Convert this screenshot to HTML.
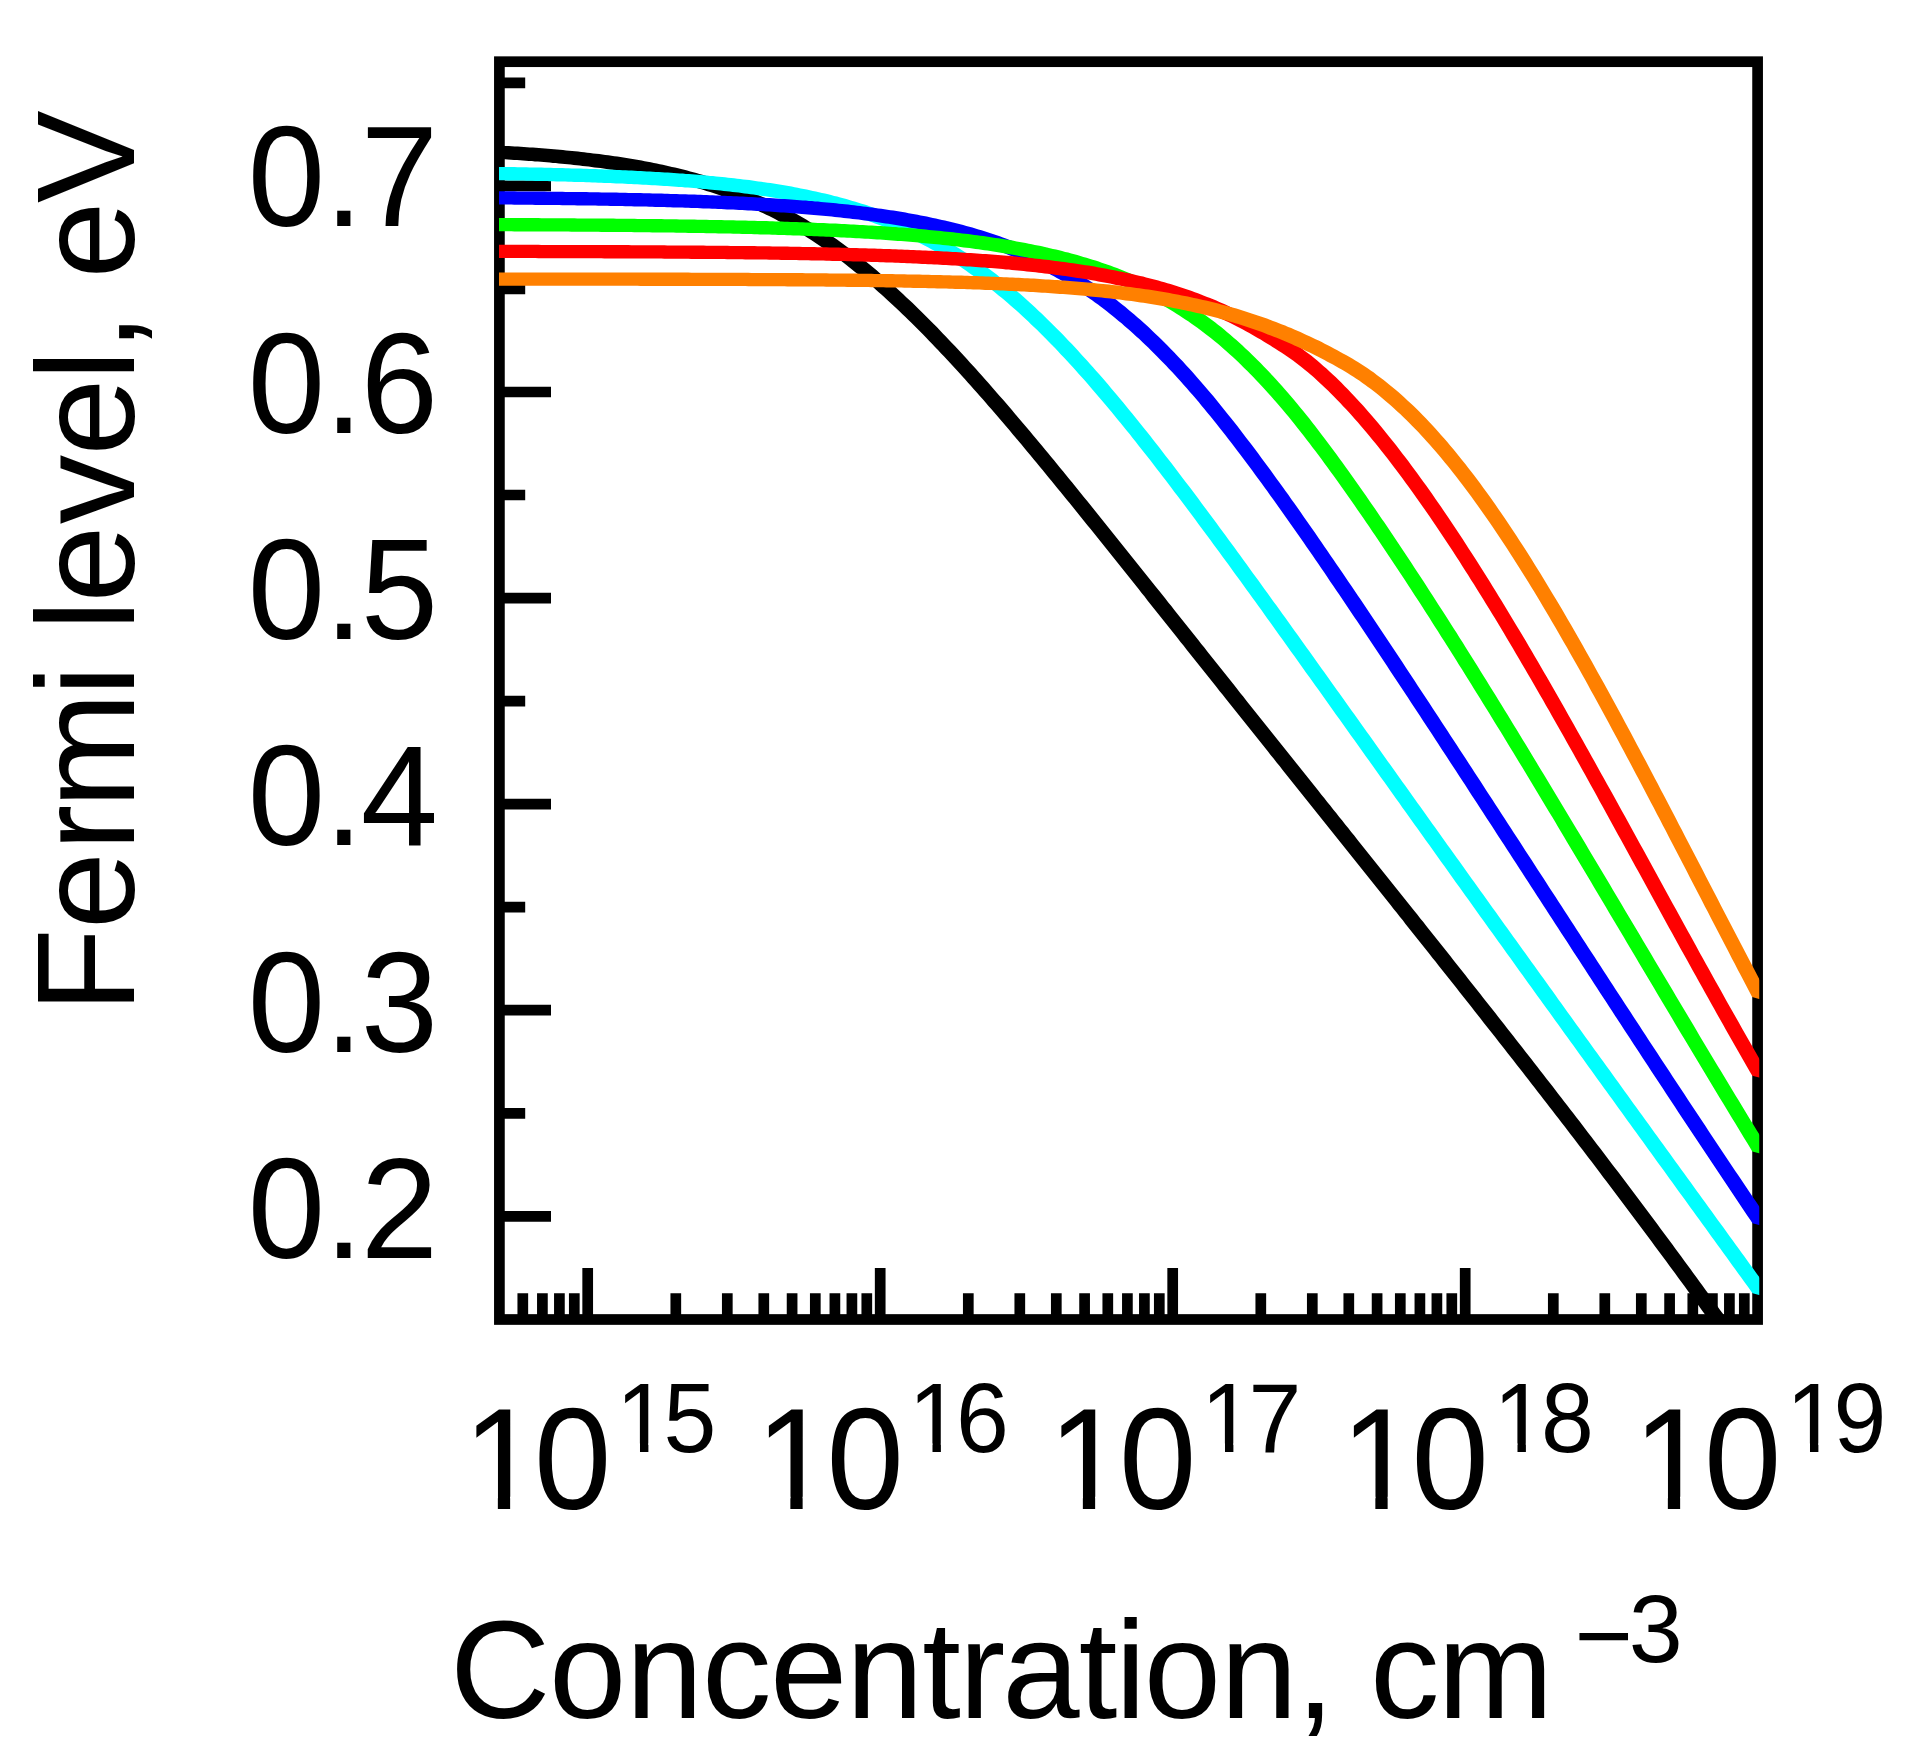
<!DOCTYPE html>
<html lang="en"><head><meta charset="utf-8"><title>Fermi level vs concentration</title>
<style>html,body{margin:0;padding:0;background:#fff}svg{display:block}</style></head>
<body>
<svg width="1910" height="1758" viewBox="0 0 1910 1758">
<rect x="0" y="0" width="1910" height="1758" fill="#fff"/>
<defs><clipPath id="plotclip"><rect x="499" y="61.7" width="1260.25" height="1258"/></clipPath></defs>
<rect x="499.4" y="61.7" width="1258.2" height="1257.8" fill="none" stroke="#000" stroke-width="10.7"/>
<path d="M499.4 1216.3H551.0M499.4 1113.3H525.2M499.4 1010.2H551.0M499.4 907.2H525.2M499.4 804.1H551.0M499.4 701.1H525.2M499.4 598.1H551.0M499.4 495.0H525.2M499.4 392.0H551.0M499.4 288.9H525.2M499.4 185.9H551.0M499.4 82.9H525.2M522.8 1319.5V1293.3M542.4 1319.5V1293.3M559.4 1319.5V1293.3M574.3 1319.5V1293.3M587.7 1319.5V1268.0M675.8 1319.5V1293.3M727.3 1319.5V1293.3M763.8 1319.5V1293.3M792.1 1319.5V1293.3M815.3 1319.5V1293.3M834.9 1319.5V1293.3M851.9 1319.5V1293.3M866.8 1319.5V1293.3M880.2 1319.5V1268.0M968.3 1319.5V1293.3M1019.8 1319.5V1293.3M1056.3 1319.5V1293.3M1084.6 1319.5V1293.3M1107.8 1319.5V1293.3M1127.4 1319.5V1293.3M1144.4 1319.5V1293.3M1159.3 1319.5V1293.3M1172.7 1319.5V1268.0M1260.8 1319.5V1293.3M1312.3 1319.5V1293.3M1348.8 1319.5V1293.3M1377.1 1319.5V1293.3M1400.3 1319.5V1293.3M1419.9 1319.5V1293.3M1436.9 1319.5V1293.3M1451.8 1319.5V1293.3M1465.2 1319.5V1268.0M1553.3 1319.5V1293.3M1604.8 1319.5V1293.3M1641.3 1319.5V1293.3M1669.6 1319.5V1293.3M1692.8 1319.5V1293.3M1712.4 1319.5V1293.3M1729.4 1319.5V1293.3M1744.3 1319.5V1293.3" fill="none" stroke="#000" stroke-width="10.7"/>
<g clip-path="url(#plotclip)" stroke="none">
<path d="M497.9 145.6 499.8 145.5 502.8 145.7 505.8 145.9 508.8 146.0 511.8 146.2 514.8 146.4 517.8 146.6 520.8 146.8 523.9 147.0 526.9 147.2 529.9 147.4 532.9 147.6 535.9 147.8 538.9 148.1 541.9 148.3 545.0 148.6 548.0 148.8 551.0 149.0 554.0 149.3 557.0 149.6 560.0 149.8 563.0 150.1 566.1 150.4 569.1 150.7 572.1 151.0 575.1 151.3 578.1 151.6 581.2 152.0 584.2 152.3 587.2 152.7 590.2 153.0 593.2 153.4 596.3 153.7 599.3 154.1 602.3 154.5 605.3 154.9 608.4 155.3 611.4 155.8 614.4 156.2 617.4 156.6 620.5 157.1 623.5 157.6 626.5 158.0 629.5 158.5 632.6 159.0 635.6 159.5 638.6 160.1 641.7 160.6 644.7 161.2 647.7 161.7 650.8 162.3 653.8 162.9 656.8 163.5 659.9 164.2 662.9 164.8 665.9 165.5 669.0 166.2 672.0 166.9 675.0 167.6 678.1 168.3 681.1 169.0 684.2 169.8 687.2 170.6 690.2 171.4 693.3 172.2 696.3 173.0 699.4 173.9 702.4 174.8 705.5 175.7 708.5 176.6 711.6 177.6 714.6 178.5 717.6 179.5 720.7 180.5 723.7 181.5 726.8 182.6 729.8 183.7 732.9 184.8 735.9 185.9 739.0 187.1 742.0 188.3 745.1 189.5 748.2 190.7 751.2 191.9 754.3 193.2 757.3 194.5 760.4 195.9 763.4 197.3 766.5 198.6 769.5 200.1 772.6 201.5 775.6 203.0 778.7 204.5 781.8 206.1 784.8 207.6 787.9 209.2 790.9 210.9 794.0 212.5 797.0 214.2 800.1 216.0 803.1 217.7 806.2 219.5 809.2 221.4 812.3 223.2 815.3 225.1 818.4 227.0 821.4 229.0 824.5 231.0 827.5 233.0 830.6 235.1 833.6 237.2 836.7 239.3 839.7 241.5 842.8 243.7 845.8 245.9 848.9 248.2 851.9 250.5 855.0 252.8 858.0 255.2 861.1 257.6 864.1 260.0 867.1 262.5 870.2 265.0 873.2 267.5 876.3 270.1 879.3 272.7 882.3 275.3 885.4 278.0 888.4 280.7 891.4 283.4 894.4 286.1 897.5 288.9 900.5 291.7 903.5 294.5 906.5 297.4 909.6 300.2 912.6 303.1 915.6 306.0 918.6 309.0 921.7 311.9 924.7 314.9 927.7 318.0 930.7 321.0 933.7 324.1 936.8 327.1 939.8 330.2 942.8 333.4 945.8 336.5 948.8 339.7 951.9 342.9 954.9 346.1 957.9 349.3 960.9 352.6 963.9 355.8 966.9 359.1 969.9 362.4 973.0 365.8 976.0 369.1 979.0 372.4 982.0 375.8 985.0 379.2 988.0 382.6 991.0 386.0 994.0 389.5 997.0 392.9 1000.1 396.4 1003.1 399.8 1006.1 403.3 1009.1 406.8 1012.1 410.3 1015.1 413.9 1018.1 417.4 1021.1 420.9 1024.1 424.5 1027.1 428.1 1030.1 431.6 1033.1 435.2 1036.1 438.8 1039.2 442.4 1042.2 446.0 1045.2 449.7 1048.2 453.3 1051.2 456.9 1054.2 460.6 1057.2 464.2 1060.2 467.9 1063.2 471.6 1066.2 475.2 1069.2 478.9 1072.2 482.6 1075.2 486.3 1078.2 490.0 1081.2 493.7 1084.2 497.4 1087.2 501.1 1090.2 504.8 1093.2 508.5 1096.2 512.3 1099.2 516.0 1102.2 519.7 1105.2 523.5 1108.2 527.2 1111.2 530.9 1114.2 534.7 1117.2 538.4 1120.2 542.2 1123.2 545.9 1126.2 549.7 1129.2 553.4 1132.2 557.2 1135.2 561.0 1138.2 564.7 1141.2 568.5 1144.2 572.2 1147.2 576.0 1150.2 579.8 1153.2 583.5 1156.2 587.3 1159.3 591.1 1162.3 594.8 1165.3 598.6 1168.3 602.4 1171.3 606.1 1174.3 609.9 1177.3 613.7 1180.3 617.5 1183.3 621.2 1186.3 625.0 1189.3 628.8 1192.3 632.5 1195.3 636.3 1198.3 640.1 1201.3 643.9 1204.3 647.6 1207.3 651.4 1210.3 655.2 1213.3 658.9 1216.3 662.7 1219.3 666.5 1222.3 670.3 1225.3 674.0 1228.3 677.8 1231.3 681.6 1234.3 685.3 1237.2 689.1 1240.2 692.9 1243.2 696.6 1246.2 700.4 1249.2 704.2 1252.2 707.9 1255.2 711.7 1258.2 715.4 1261.2 719.2 1264.2 723.0 1267.2 726.7 1270.2 730.5 1273.2 734.3 1276.2 738.0 1279.2 741.8 1282.2 745.5 1285.2 749.3 1288.2 753.0 1291.2 756.8 1294.2 760.6 1297.2 764.3 1300.2 768.1 1303.2 771.8 1306.2 775.6 1309.2 779.3 1312.2 783.1 1315.2 786.8 1318.2 790.6 1321.2 794.4 1324.2 798.1 1327.2 801.9 1330.2 805.6 1333.2 809.4 1336.2 813.1 1339.2 816.9 1342.2 820.6 1345.2 824.4 1348.2 828.1 1351.2 831.9 1354.2 835.6 1357.2 839.4 1360.2 843.2 1363.2 846.9 1366.2 850.7 1369.2 854.4 1372.2 858.2 1375.2 861.9 1378.2 865.7 1381.2 869.4 1384.2 873.2 1387.2 877.0 1390.2 880.7 1393.2 884.5 1396.2 888.2 1399.2 892.0 1402.2 895.8 1405.2 899.5 1408.2 903.3 1411.2 907.1 1414.2 910.8 1417.3 914.6 1420.3 918.4 1423.3 922.1 1426.3 925.9 1429.3 929.7 1432.3 933.5 1435.3 937.2 1438.3 941.0 1441.3 944.8 1444.3 948.6 1447.3 952.3 1450.3 956.1 1453.3 959.9 1456.3 963.7 1459.3 967.5 1462.3 971.3 1465.3 975.1 1468.3 978.9 1471.3 982.7 1474.3 986.5 1477.3 990.3 1480.3 994.1 1483.3 997.9 1486.3 1001.7 1489.3 1005.5 1492.3 1009.3 1495.3 1013.1 1498.3 1016.9 1501.3 1020.7 1504.3 1024.6 1507.3 1028.4 1510.3 1032.2 1513.3 1036.0 1516.3 1039.9 1519.3 1043.7 1522.3 1047.6 1525.3 1051.4 1528.3 1055.2 1531.3 1059.1 1534.3 1062.9 1537.3 1066.8 1540.3 1070.7 1543.3 1074.5 1546.3 1078.4 1549.3 1082.3 1552.3 1086.1 1555.3 1090.0 1558.3 1093.9 1561.3 1097.8 1564.3 1101.7 1567.3 1105.5 1570.3 1109.4 1573.3 1113.3 1576.3 1117.2 1579.3 1121.1 1582.3 1125.1 1585.3 1129.0 1588.3 1132.9 1591.3 1136.8 1594.3 1140.7 1597.3 1144.7 1600.3 1148.6 1603.3 1152.6 1606.3 1156.5 1609.3 1160.4 1612.3 1164.4 1615.4 1168.4 1618.4 1172.3 1621.4 1176.3 1624.4 1180.3 1627.4 1184.3 1630.4 1188.2 1633.4 1192.2 1636.4 1196.2 1639.4 1200.2 1642.4 1204.2 1645.4 1208.2 1648.4 1212.3 1651.4 1216.3 1654.4 1220.3 1657.4 1224.3 1660.4 1228.4 1663.4 1232.4 1666.4 1236.5 1669.4 1240.5 1672.4 1244.6 1675.4 1248.7 1678.4 1252.7 1681.4 1256.8 1684.4 1260.9 1687.4 1265.0 1690.4 1269.1 1693.4 1273.2 1696.4 1277.3 1699.4 1281.4 1702.4 1285.6 1705.4 1289.7 1708.4 1293.8 1711.4 1298.0 1714.4 1302.1 1717.4 1306.3 1720.4 1310.4 1723.5 1314.6 1726.5 1318.8 1729.5 1323.0 1732.5 1327.2 1735.5 1331.4 1738.5 1335.6 1741.5 1339.8 1744.5 1344.0 1747.5 1348.2 1750.5 1352.5 1753.5 1356.7 1756.5 1361.0 1759.5 1365.2 1762.5 1369.5 1764.7 1372.7 1769.3 1379.2 1762.0 1383.9 1752.6 1381.3 1750.3 1378.1 1747.3 1373.8 1744.3 1369.6 1741.3 1365.3 1738.3 1361.1 1735.3 1356.9 1732.3 1352.6 1729.3 1348.4 1726.3 1344.2 1723.3 1340.0 1720.3 1335.8 1717.3 1331.7 1714.3 1327.5 1711.3 1323.3 1708.4 1319.2 1705.4 1315.0 1702.4 1310.9 1699.4 1306.7 1696.4 1302.6 1693.4 1298.4 1690.4 1294.3 1687.4 1290.2 1684.4 1286.1 1681.4 1282.0 1678.4 1277.9 1675.4 1273.8 1672.4 1269.7 1669.4 1265.7 1666.4 1261.6 1663.4 1257.5 1660.4 1253.5 1657.4 1249.4 1654.4 1245.4 1651.4 1241.3 1648.4 1237.3 1645.4 1233.3 1642.4 1229.2 1639.4 1225.2 1636.4 1221.2 1633.4 1217.2 1630.4 1213.2 1627.4 1209.2 1624.4 1205.2 1621.4 1201.2 1618.4 1197.2 1615.4 1193.2 1612.4 1189.3 1609.4 1185.3 1606.4 1181.3 1603.4 1177.4 1600.5 1173.4 1597.5 1169.5 1594.5 1165.5 1591.5 1161.6 1588.5 1157.7 1585.5 1153.7 1582.5 1149.8 1579.5 1145.9 1576.5 1142.0 1573.5 1138.1 1570.5 1134.2 1567.5 1130.2 1564.5 1126.3 1561.5 1122.4 1558.5 1118.6 1555.5 1114.7 1552.5 1110.8 1549.5 1106.9 1546.5 1103.0 1543.5 1099.2 1540.5 1095.3 1537.5 1091.4 1534.5 1087.6 1531.5 1083.7 1528.5 1079.8 1525.5 1076.0 1522.5 1072.1 1519.5 1068.3 1516.5 1064.4 1513.5 1060.6 1510.5 1056.8 1507.5 1052.9 1504.5 1049.1 1501.5 1045.3 1498.5 1041.4 1495.5 1037.6 1492.5 1033.8 1489.5 1030.0 1486.5 1026.2 1483.5 1022.4 1480.5 1018.5 1477.5 1014.7 1474.5 1010.9 1471.5 1007.1 1468.5 1003.3 1465.5 999.5 1462.5 995.7 1459.5 991.9 1456.5 988.1 1453.5 984.3 1450.5 980.6 1447.5 976.8 1444.5 973.0 1441.5 969.2 1438.5 965.4 1435.5 961.6 1432.5 957.9 1429.5 954.1 1426.5 950.3 1423.5 946.5 1420.5 942.8 1417.5 939.0 1414.5 935.2 1411.5 931.4 1408.5 927.7 1405.5 923.9 1402.6 920.1 1399.6 916.4 1396.6 912.6 1393.6 908.9 1390.6 905.1 1387.6 901.3 1384.6 897.6 1381.6 893.8 1378.6 890.1 1375.6 886.3 1372.6 882.5 1369.6 878.8 1366.6 875.0 1363.6 871.3 1360.6 867.5 1357.6 863.8 1354.6 860.0 1351.6 856.2 1348.6 852.5 1345.6 848.7 1342.6 845.0 1339.6 841.2 1336.6 837.5 1333.6 833.7 1330.6 830.0 1327.6 826.2 1324.6 822.5 1321.6 818.7 1318.6 815.0 1315.6 811.2 1312.6 807.4 1309.6 803.7 1306.6 799.9 1303.6 796.2 1300.6 792.4 1297.6 788.7 1294.6 784.9 1291.6 781.2 1288.6 777.4 1285.6 773.7 1282.6 769.9 1279.6 766.1 1276.6 762.4 1273.6 758.6 1270.6 754.9 1267.6 751.1 1264.6 747.3 1261.6 743.6 1258.6 739.8 1255.6 736.1 1252.6 732.3 1249.6 728.5 1246.6 724.8 1243.6 721.0 1240.6 717.2 1237.6 713.5 1234.6 709.7 1231.6 705.9 1228.6 702.2 1225.6 698.4 1222.5 694.6 1219.5 690.9 1216.5 687.1 1213.5 683.3 1210.5 679.6 1207.5 675.8 1204.5 672.0 1201.5 668.3 1198.5 664.5 1195.5 660.7 1192.5 656.9 1189.5 653.2 1186.5 649.4 1183.5 645.6 1180.5 641.9 1177.5 638.1 1174.5 634.3 1171.5 630.5 1168.5 626.8 1165.5 623.0 1162.5 619.2 1159.5 615.5 1156.5 611.7 1153.5 607.9 1150.5 604.2 1147.5 600.4 1144.6 596.6 1141.6 592.9 1138.6 589.1 1135.6 585.3 1132.6 581.6 1129.6 577.8 1126.6 574.0 1123.6 570.3 1120.6 566.5 1117.6 562.8 1114.6 559.0 1111.6 555.3 1108.6 551.5 1105.6 547.8 1102.6 544.0 1099.6 540.3 1096.6 536.6 1093.6 532.8 1090.6 529.1 1087.6 525.4 1084.6 521.7 1081.6 517.9 1078.6 514.2 1075.6 510.5 1072.6 506.8 1069.6 503.1 1066.6 499.4 1063.6 495.7 1060.6 492.1 1057.6 488.4 1054.6 484.7 1051.6 481.0 1048.6 477.4 1045.6 473.7 1042.6 470.1 1039.6 466.5 1036.6 462.8 1033.6 459.2 1030.6 455.6 1027.6 452.0 1024.7 448.4 1021.7 444.8 1018.7 441.3 1015.7 437.7 1012.7 434.2 1009.7 430.6 1006.7 427.1 1003.7 423.6 1000.7 420.1 997.7 416.6 994.7 413.1 991.7 409.6 988.7 406.2 985.8 402.8 982.8 399.3 979.8 395.9 976.8 392.5 973.8 389.2 970.8 385.8 967.8 382.4 964.8 379.1 961.8 375.8 958.9 372.5 955.9 369.2 952.9 366.0 949.9 362.8 946.9 359.5 943.9 356.3 940.9 353.2 938.0 350.0 935.0 346.9 932.0 343.8 929.0 340.7 926.0 337.6 923.1 334.6 920.1 331.5 917.1 328.6 914.1 325.6 911.1 322.6 908.2 319.7 905.2 316.8 902.2 313.9 899.2 311.1 896.3 308.3 893.3 305.5 890.3 302.7 887.3 299.9 884.4 297.2 881.4 294.5 878.4 291.9 875.4 289.2 872.5 286.6 869.5 284.1 866.5 281.5 863.6 279.0 860.6 276.5 857.7 274.1 854.7 271.7 851.7 269.3 848.8 266.9 845.8 264.6 842.9 262.3 839.9 260.1 837.0 257.9 834.0 255.7 831.1 253.6 828.1 251.5 825.2 249.4 822.2 247.4 819.3 245.4 816.3 243.4 813.4 241.5 810.4 239.5 807.5 237.7 804.5 235.8 801.6 234.0 798.6 232.2 795.7 230.5 792.7 228.8 789.8 227.1 786.8 225.4 783.9 223.8 780.9 222.2 778.0 220.7 775.0 219.1 772.1 217.6 769.2 216.1 766.2 214.7 763.3 213.3 760.3 211.9 757.4 210.5 754.4 209.2 751.5 207.9 748.5 206.6 745.6 205.3 742.6 204.1 739.7 202.9 736.8 201.7 733.8 200.5 730.9 199.4 727.9 198.3 725.0 197.2 722.0 196.2 719.1 195.1 716.1 194.1 713.2 193.1 710.2 192.1 707.2 191.2 704.3 190.2 701.3 189.3 698.4 188.4 695.4 187.6 692.5 186.7 689.5 185.9 686.6 185.1 683.6 184.3 680.6 183.5 677.7 182.7 674.7 182.0 671.8 181.2 668.8 180.5 665.8 179.8 662.9 179.2 659.9 178.5 656.9 177.9 654.0 177.2 651.0 176.6 648.0 176.0 645.1 175.4 642.1 174.9 639.1 174.3 636.2 173.7 633.2 173.2 630.2 172.7 627.3 172.2 624.3 171.7 621.3 171.2 618.3 170.7 615.4 170.3 612.4 169.8 609.4 169.4 606.4 169.0 603.5 168.5 600.5 168.1 597.5 167.7 594.5 167.4 591.6 167.0 588.6 166.6 585.6 166.3 582.6 165.9 579.6 165.6 576.7 165.2 573.7 164.9 570.7 164.6 567.7 164.3 564.7 164.0 561.8 163.7 558.8 163.4 555.8 163.1 552.8 162.9 549.8 162.6 546.8 162.3 543.8 162.1 540.9 161.8 537.9 161.6 534.9 161.4 531.9 161.1 528.9 160.9 525.9 160.7 522.9 160.5 520.0 160.3 517.0 160.1 514.0 159.9 511.0 159.7 508.0 159.5 505.0 159.3 502.0 159.2 499.0 159.0 497.9 158.9Z" fill="#000"/>
<path d="M497.9 166.9 499.5 166.9 502.5 166.9 505.5 167.0 508.5 167.0 511.5 167.1 514.5 167.1 517.5 167.2 520.5 167.2 523.5 167.3 526.5 167.3 529.5 167.4 532.5 167.4 535.5 167.5 538.5 167.6 541.5 167.6 544.6 167.7 547.6 167.8 550.6 167.8 553.6 167.9 556.6 168.0 559.6 168.1 562.6 168.1 565.6 168.2 568.6 168.3 571.6 168.4 574.6 168.5 577.6 168.6 580.6 168.6 583.6 168.7 586.6 168.8 589.6 168.9 592.6 169.0 595.6 169.1 598.6 169.2 601.6 169.3 604.7 169.5 607.7 169.6 610.7 169.7 613.7 169.8 616.7 169.9 619.7 170.1 622.7 170.2 625.7 170.3 628.7 170.5 631.7 170.6 634.7 170.7 637.7 170.9 640.7 171.0 643.8 171.2 646.8 171.4 649.8 171.5 652.8 171.7 655.8 171.9 658.8 172.0 661.8 172.2 664.8 172.4 667.8 172.6 670.9 172.8 673.9 173.0 676.9 173.2 679.9 173.4 682.9 173.6 685.9 173.9 688.9 174.1 691.9 174.3 695.0 174.6 698.0 174.8 701.0 175.1 704.0 175.3 707.0 175.6 710.0 175.9 713.0 176.1 716.1 176.4 719.1 176.7 722.1 177.0 725.1 177.3 728.1 177.7 731.2 178.0 734.2 178.3 737.2 178.7 740.2 179.0 743.2 179.4 746.3 179.8 749.3 180.1 752.3 180.5 755.3 180.9 758.4 181.4 761.4 181.8 764.4 182.2 767.4 182.7 770.5 183.1 773.5 183.6 776.5 184.1 779.5 184.5 782.6 185.1 785.6 185.6 788.6 186.1 791.7 186.6 794.7 187.2 797.7 187.8 800.8 188.4 803.8 189.0 806.8 189.6 809.9 190.2 812.9 190.9 815.9 191.5 819.0 192.2 822.0 192.9 825.0 193.6 828.1 194.3 831.1 195.1 834.2 195.9 837.2 196.6 840.3 197.4 843.3 198.3 846.3 199.1 849.4 200.0 852.4 200.9 855.5 201.8 858.5 202.7 861.6 203.7 864.6 204.6 867.7 205.6 870.7 206.7 873.8 207.7 876.8 208.8 879.9 209.9 882.9 211.0 886.0 212.1 889.0 213.3 892.1 214.5 895.1 215.7 898.2 217.0 901.3 218.3 904.3 219.6 907.4 220.9 910.4 222.3 913.5 223.7 916.5 225.1 919.6 226.6 922.7 228.1 925.7 229.6 928.8 231.2 931.8 232.7 934.9 234.4 937.9 236.0 941.0 237.7 944.1 239.4 947.1 241.2 950.2 243.0 953.2 244.8 956.3 246.7 959.3 248.5 962.4 250.5 965.5 252.4 968.5 254.4 971.6 256.5 974.6 258.6 977.7 260.7 980.7 262.8 983.8 265.0 986.8 267.2 989.9 269.5 992.9 271.8 996.0 274.1 999.0 276.5 1002.1 278.9 1005.1 281.3 1008.2 283.8 1011.2 286.3 1014.2 288.9 1017.3 291.5 1020.3 294.1 1023.4 296.8 1026.4 299.5 1029.4 302.2 1032.5 305.0 1035.5 307.8 1038.5 310.7 1041.6 313.5 1044.6 316.5 1047.6 319.4 1050.7 322.4 1053.7 325.4 1056.7 328.4 1059.8 331.5 1062.8 334.6 1065.8 337.7 1068.8 340.9 1071.9 344.1 1074.9 347.3 1077.9 350.6 1080.9 353.9 1083.9 357.2 1087.0 360.5 1090.0 363.9 1093.0 367.3 1096.0 370.7 1099.0 374.1 1102.1 377.6 1105.1 381.1 1108.1 384.6 1111.1 388.2 1114.1 391.7 1117.1 395.3 1120.2 398.9 1123.2 402.6 1126.2 406.2 1129.2 409.9 1132.2 413.6 1135.2 417.3 1138.2 421.0 1141.2 424.8 1144.2 428.5 1147.3 432.3 1150.3 436.1 1153.3 439.9 1156.3 443.8 1159.3 447.6 1162.3 451.5 1165.3 455.4 1168.3 459.2 1171.3 463.1 1174.3 467.1 1177.3 471.0 1180.3 474.9 1183.3 478.9 1186.4 482.9 1189.4 486.8 1192.4 490.8 1195.4 494.8 1198.4 498.8 1201.4 502.9 1204.4 506.9 1207.4 510.9 1210.4 515.0 1213.4 519.0 1216.4 523.1 1219.4 527.2 1222.4 531.2 1225.4 535.3 1228.4 539.4 1231.4 543.5 1234.4 547.6 1237.4 551.7 1240.4 555.8 1243.4 560.0 1246.4 564.1 1249.4 568.2 1252.4 572.4 1255.4 576.5 1258.4 580.6 1261.4 584.8 1264.4 588.9 1267.4 593.1 1270.4 597.3 1273.4 601.4 1276.5 605.6 1279.5 609.8 1282.5 613.9 1285.5 618.1 1288.5 622.3 1291.5 626.5 1294.5 630.7 1297.5 634.8 1300.5 639.0 1303.5 643.2 1306.5 647.4 1309.5 651.6 1312.5 655.8 1315.5 660.0 1318.5 664.2 1321.5 668.4 1324.5 672.6 1327.5 676.8 1330.5 681.0 1333.5 685.2 1336.5 689.4 1339.5 693.6 1342.5 697.8 1345.5 702.0 1348.5 706.2 1351.5 710.4 1354.5 714.6 1357.5 718.8 1360.5 723.0 1363.5 727.2 1366.5 731.4 1369.5 735.6 1372.5 739.8 1375.5 744.0 1378.5 748.2 1381.5 752.5 1384.5 756.7 1387.5 760.9 1390.5 765.1 1393.5 769.3 1396.5 773.5 1399.5 777.7 1402.5 781.9 1405.5 786.1 1408.5 790.3 1411.5 794.5 1414.5 798.7 1417.5 802.9 1420.5 807.1 1423.5 811.3 1426.5 815.5 1429.5 819.7 1432.5 823.9 1435.5 828.1 1438.5 832.3 1441.5 836.5 1444.5 840.7 1447.5 844.9 1450.5 849.0 1453.5 853.2 1456.5 857.4 1459.5 861.6 1462.5 865.8 1465.5 870.0 1468.5 874.2 1471.5 878.4 1474.5 882.6 1477.5 886.7 1480.5 890.9 1483.5 895.1 1486.5 899.3 1489.5 903.5 1492.5 907.7 1495.5 911.8 1498.5 916.0 1501.5 920.2 1504.5 924.4 1507.5 928.6 1510.5 932.7 1513.5 936.9 1516.5 941.1 1519.5 945.3 1522.5 949.4 1525.5 953.6 1528.5 957.8 1531.5 962.0 1534.5 966.1 1537.5 970.3 1540.5 974.5 1543.5 978.6 1546.5 982.8 1549.5 987.0 1552.5 991.1 1555.5 995.3 1558.4 999.5 1561.4 1003.6 1564.4 1007.8 1567.4 1011.9 1570.4 1016.1 1573.4 1020.3 1576.4 1024.4 1579.4 1028.6 1582.4 1032.7 1585.4 1036.9 1588.4 1041.1 1591.4 1045.2 1594.4 1049.4 1597.4 1053.5 1600.4 1057.7 1603.4 1061.8 1606.4 1066.0 1609.4 1070.1 1612.4 1074.3 1615.4 1078.5 1618.4 1082.6 1621.4 1086.8 1624.4 1090.9 1627.4 1095.1 1630.4 1099.2 1633.4 1103.4 1636.4 1107.5 1639.4 1111.7 1642.4 1115.8 1645.4 1119.9 1648.4 1124.1 1651.4 1128.2 1654.4 1132.4 1657.4 1136.5 1660.4 1140.7 1663.4 1144.8 1666.4 1149.0 1669.4 1153.1 1672.4 1157.3 1675.4 1161.4 1678.4 1165.5 1681.4 1169.7 1684.4 1173.8 1687.4 1178.0 1690.4 1182.1 1693.4 1186.2 1696.4 1190.4 1699.4 1194.5 1702.4 1198.7 1705.4 1202.8 1708.4 1206.9 1711.4 1211.1 1714.4 1215.2 1717.4 1219.4 1720.4 1223.5 1723.4 1227.6 1726.4 1231.8 1729.4 1235.9 1732.4 1240.1 1735.4 1244.2 1738.4 1248.3 1741.4 1252.5 1744.4 1256.6 1747.4 1260.8 1750.4 1264.9 1753.4 1269.0 1756.4 1273.2 1759.4 1277.3 1762.4 1281.5 1764.7 1284.6 1769.4 1291.0 1762.0 1295.9 1752.6 1293.3 1750.4 1290.2 1747.4 1286.1 1744.4 1281.9 1741.4 1277.8 1738.4 1273.7 1735.4 1269.5 1732.4 1265.4 1729.4 1261.2 1726.4 1257.1 1723.4 1253.0 1720.4 1248.8 1717.4 1244.7 1714.4 1240.5 1711.4 1236.4 1708.4 1232.3 1705.4 1228.1 1702.4 1224.0 1699.4 1219.8 1696.4 1215.7 1693.4 1211.6 1690.4 1207.4 1687.4 1203.3 1684.4 1199.1 1681.4 1195.0 1678.4 1190.9 1675.4 1186.7 1672.4 1182.6 1669.4 1178.4 1666.4 1174.3 1663.4 1170.1 1660.4 1166.0 1657.4 1161.9 1654.4 1157.7 1651.4 1153.6 1648.4 1149.4 1645.4 1145.3 1642.4 1141.1 1639.4 1137.0 1636.4 1132.8 1633.4 1128.7 1630.4 1124.5 1627.4 1120.4 1624.4 1116.2 1621.4 1112.1 1618.4 1107.9 1615.4 1103.8 1612.4 1099.6 1609.4 1095.5 1606.4 1091.3 1603.4 1087.2 1600.4 1083.0 1597.4 1078.9 1594.4 1074.7 1591.4 1070.6 1588.4 1066.4 1585.4 1062.3 1582.4 1058.1 1579.4 1053.9 1576.4 1049.8 1573.4 1045.6 1570.4 1041.5 1567.4 1037.3 1564.4 1033.2 1561.4 1029.0 1558.4 1024.8 1555.4 1020.7 1552.4 1016.5 1549.4 1012.3 1546.4 1008.2 1543.3 1004.0 1540.3 999.8 1537.3 995.7 1534.3 991.5 1531.3 987.3 1528.3 983.2 1525.3 979.0 1522.3 974.8 1519.3 970.7 1516.3 966.5 1513.3 962.3 1510.3 958.1 1507.3 954.0 1504.3 949.8 1501.3 945.6 1498.3 941.4 1495.3 937.3 1492.3 933.1 1489.3 928.9 1486.3 924.7 1483.3 920.5 1480.3 916.4 1477.3 912.2 1474.3 908.0 1471.3 903.8 1468.3 899.6 1465.3 895.4 1462.3 891.2 1459.3 887.1 1456.3 882.9 1453.3 878.7 1450.3 874.5 1447.3 870.3 1444.3 866.1 1441.3 861.9 1438.3 857.7 1435.3 853.5 1432.3 849.3 1429.3 845.1 1426.3 840.9 1423.3 836.7 1420.3 832.5 1417.3 828.3 1414.3 824.2 1411.3 820.0 1408.3 815.8 1405.3 811.6 1402.3 807.4 1399.3 803.1 1396.3 798.9 1393.3 794.7 1390.3 790.5 1387.3 786.3 1384.3 782.1 1381.3 777.9 1378.3 773.7 1375.3 769.5 1372.3 765.3 1369.3 761.1 1366.3 756.9 1363.3 752.7 1360.3 748.5 1357.3 744.3 1354.3 740.1 1351.3 735.9 1348.3 731.7 1345.3 727.5 1342.3 723.3 1339.3 719.1 1336.3 714.9 1333.3 710.7 1330.3 706.5 1327.3 702.2 1324.3 698.0 1321.3 693.8 1318.3 689.6 1315.3 685.4 1312.3 681.2 1309.3 677.1 1306.3 672.9 1303.3 668.7 1300.3 664.5 1297.3 660.3 1294.3 656.1 1291.3 651.9 1288.3 647.7 1285.3 643.5 1282.3 639.3 1279.3 635.2 1276.3 631.0 1273.3 626.8 1270.3 622.6 1267.3 618.5 1264.3 614.3 1261.4 610.1 1258.4 606.0 1255.4 601.8 1252.4 597.7 1249.4 593.5 1246.4 589.4 1243.4 585.3 1240.4 581.1 1237.4 577.0 1234.4 572.9 1231.4 568.7 1228.4 564.6 1225.4 560.5 1222.4 556.4 1219.4 552.3 1216.4 548.2 1213.4 544.2 1210.4 540.1 1207.4 536.0 1204.4 532.0 1201.4 527.9 1198.4 523.9 1195.4 519.8 1192.4 515.8 1189.4 511.8 1186.4 507.8 1183.4 503.8 1180.4 499.8 1177.4 495.8 1174.4 491.9 1171.5 487.9 1168.5 484.0 1165.5 480.1 1162.5 476.2 1159.5 472.3 1156.5 468.4 1153.5 464.5 1150.5 460.6 1147.5 456.8 1144.5 453.0 1141.5 449.2 1138.5 445.4 1135.5 441.6 1132.6 437.9 1129.6 434.1 1126.6 430.4 1123.6 426.7 1120.6 423.0 1117.6 419.4 1114.6 415.7 1111.6 412.1 1108.6 408.5 1105.7 404.9 1102.7 401.4 1099.7 397.9 1096.7 394.4 1093.7 390.9 1090.7 387.4 1087.8 384.0 1084.8 380.6 1081.8 377.2 1078.8 373.9 1075.8 370.6 1072.9 367.3 1069.9 364.0 1066.9 360.8 1063.9 357.6 1060.9 354.4 1058.0 351.2 1055.0 348.1 1052.0 345.1 1049.0 342.0 1046.1 339.0 1043.1 336.0 1040.1 333.0 1037.2 330.1 1034.2 327.2 1031.2 324.4 1028.3 321.6 1025.3 318.8 1022.3 316.0 1019.4 313.3 1016.4 310.6 1013.4 308.0 1010.5 305.4 1007.5 302.8 1004.6 300.3 1001.6 297.8 998.6 295.4 995.7 293.0 992.7 290.6 989.8 288.2 986.8 285.9 983.9 283.7 980.9 281.4 978.0 279.2 975.0 277.1 972.1 275.0 969.1 272.9 966.2 270.8 963.2 268.8 960.3 266.8 957.3 264.9 954.4 263.0 951.5 261.1 948.5 259.3 945.6 257.5 942.6 255.7 939.7 254.0 936.7 252.2 933.8 250.6 930.9 248.9 927.9 247.3 925.0 245.8 922.0 244.2 919.1 242.7 916.1 241.2 913.2 239.8 910.3 238.3 907.3 236.9 904.4 235.6 901.4 234.2 898.5 232.9 895.5 231.6 892.6 230.4 889.7 229.2 886.7 228.0 883.8 226.8 880.8 225.6 877.9 224.5 874.9 223.4 872.0 222.3 869.0 221.3 866.1 220.2 863.1 219.2 860.2 218.2 857.2 217.3 854.3 216.3 851.3 215.4 848.4 214.5 845.4 213.6 842.5 212.8 839.5 211.9 836.5 211.1 833.6 210.3 830.6 209.5 827.7 208.8 824.7 208.0 821.8 207.3 818.8 206.6 815.8 205.9 812.9 205.2 809.9 204.5 806.9 203.9 804.0 203.3 801.0 202.6 798.0 202.0 795.1 201.5 792.1 200.9 789.1 200.3 786.2 199.8 783.2 199.2 780.2 198.7 777.3 198.2 774.3 197.7 771.3 197.2 768.3 196.8 765.4 196.3 762.4 195.9 759.4 195.4 756.4 195.0 753.5 194.6 750.5 194.2 747.5 193.8 744.5 193.4 741.6 193.0 738.6 192.6 735.6 192.3 732.6 191.9 729.6 191.6 726.7 191.3 723.7 190.9 720.7 190.6 717.7 190.3 714.7 190.0 711.8 189.7 708.8 189.4 705.8 189.1 702.8 188.9 699.8 188.6 696.8 188.3 693.8 188.1 690.9 187.8 687.9 187.6 684.9 187.4 681.9 187.1 678.9 186.9 675.9 186.7 672.9 186.5 669.9 186.3 667.0 186.1 664.0 185.9 661.0 185.7 658.0 185.5 655.0 185.3 652.0 185.2 649.0 185.0 646.0 184.8 643.0 184.7 640.1 184.5 637.1 184.3 634.1 184.2 631.1 184.0 628.1 183.9 625.1 183.8 622.1 183.6 619.1 183.5 616.1 183.4 613.1 183.2 610.1 183.1 607.1 183.0 604.1 182.9 601.2 182.8 598.2 182.7 595.2 182.5 592.2 182.4 589.2 182.3 586.2 182.2 583.2 182.1 580.2 182.0 577.2 182.0 574.2 181.9 571.2 181.8 568.2 181.7 565.2 181.6 562.2 181.5 559.2 181.4 556.2 181.4 553.2 181.3 550.2 181.2 547.2 181.1 544.2 181.1 541.3 181.0 538.3 180.9 535.3 180.9 532.3 180.8 529.3 180.8 526.3 180.7 523.3 180.6 520.3 180.6 517.3 180.5 514.3 180.5 511.3 180.4 508.3 180.4 505.3 180.3 502.3 180.3 499.3 180.2 497.9 180.2Z" fill="#00ffff"/>
<path d="M497.9 191.2 499.5 191.2 502.5 191.2 505.5 191.3 508.5 191.3 511.5 191.3 514.5 191.3 517.5 191.4 520.5 191.4 523.5 191.4 526.5 191.4 529.5 191.5 532.5 191.5 535.5 191.5 538.5 191.6 541.5 191.6 544.5 191.6 547.5 191.7 550.5 191.7 553.5 191.7 556.5 191.8 559.5 191.8 562.5 191.8 565.5 191.9 568.5 191.9 571.5 191.9 574.5 192.0 577.5 192.0 580.5 192.1 583.5 192.1 586.5 192.1 589.5 192.2 592.5 192.2 595.5 192.3 598.5 192.3 601.5 192.4 604.5 192.4 607.5 192.5 610.5 192.5 613.5 192.6 616.5 192.6 619.5 192.7 622.5 192.8 625.5 192.8 628.5 192.9 631.5 192.9 634.5 193.0 637.5 193.1 640.6 193.1 643.6 193.2 646.6 193.3 649.6 193.3 652.6 193.4 655.6 193.5 658.6 193.6 661.6 193.6 664.6 193.7 667.6 193.8 670.6 193.9 673.6 194.0 676.6 194.1 679.6 194.2 682.6 194.2 685.6 194.3 688.6 194.4 691.6 194.5 694.6 194.6 697.6 194.7 700.6 194.8 703.6 195.0 706.7 195.1 709.7 195.2 712.7 195.3 715.7 195.4 718.7 195.5 721.7 195.7 724.7 195.8 727.7 195.9 730.7 196.0 733.7 196.2 736.7 196.3 739.7 196.5 742.7 196.6 745.7 196.8 748.8 196.9 751.8 197.1 754.8 197.2 757.8 197.4 760.8 197.6 763.8 197.7 766.8 197.9 769.8 198.1 772.8 198.3 775.8 198.5 778.8 198.7 781.9 198.9 784.9 199.1 787.9 199.3 790.9 199.5 793.9 199.7 796.9 199.9 799.9 200.2 802.9 200.4 805.9 200.6 809.0 200.9 812.0 201.1 815.0 201.4 818.0 201.6 821.0 201.9 824.0 202.2 827.0 202.5 830.1 202.7 833.1 203.0 836.1 203.3 839.1 203.7 842.1 204.0 845.1 204.3 848.2 204.6 851.2 205.0 854.2 205.3 857.2 205.7 860.2 206.0 863.3 206.4 866.3 206.8 869.3 207.2 872.3 207.6 875.3 208.0 878.4 208.4 881.4 208.8 884.4 209.3 887.4 209.7 890.5 210.2 893.5 210.6 896.5 211.1 899.5 211.6 902.6 212.1 905.6 212.6 908.6 213.2 911.6 213.7 914.7 214.2 917.7 214.8 920.7 215.4 923.8 216.0 926.8 216.6 929.8 217.2 932.9 217.9 935.9 218.5 938.9 219.2 942.0 219.9 945.0 220.5 948.0 221.3 951.1 222.0 954.1 222.7 957.2 223.5 960.2 224.3 963.2 225.1 966.3 225.9 969.3 226.8 972.4 227.6 975.4 228.5 978.5 229.4 981.5 230.3 984.6 231.3 987.6 232.2 990.6 233.2 993.7 234.2 996.7 235.3 999.8 236.3 1002.9 237.4 1005.9 238.5 1009.0 239.7 1012.0 240.8 1015.1 242.0 1018.1 243.2 1021.2 244.5 1024.2 245.7 1027.3 247.0 1030.3 248.3 1033.4 249.7 1036.5 251.1 1039.5 252.5 1042.6 254.0 1045.6 255.4 1048.7 257.0 1051.8 258.5 1054.8 260.1 1057.9 261.7 1060.9 263.4 1064.0 265.0 1067.1 266.8 1070.1 268.5 1073.2 270.3 1076.2 272.1 1079.3 274.0 1082.4 275.9 1085.4 277.9 1088.5 279.9 1091.5 281.9 1094.6 283.9 1097.7 286.1 1100.7 288.2 1103.8 290.4 1106.8 292.6 1109.9 294.9 1112.9 297.2 1116.0 299.5 1119.0 301.9 1122.1 304.4 1125.1 306.8 1128.2 309.4 1131.2 311.9 1134.3 314.5 1137.3 317.2 1140.4 319.8 1143.4 322.6 1146.5 325.3 1149.5 328.1 1152.5 331.0 1155.6 333.9 1158.6 336.8 1161.7 339.8 1164.7 342.8 1167.7 345.8 1170.8 348.9 1173.8 352.0 1176.8 355.2 1179.9 358.4 1182.9 361.6 1185.9 364.9 1189.0 368.2 1192.0 371.6 1195.0 375.0 1198.0 378.4 1201.1 381.9 1204.1 385.4 1207.1 388.9 1210.1 392.5 1213.2 396.1 1216.2 399.8 1219.2 403.4 1222.2 407.2 1225.2 410.9 1228.2 414.7 1231.3 418.5 1234.3 422.3 1237.3 426.1 1240.3 430.0 1243.3 433.9 1246.3 437.9 1249.3 441.8 1252.4 445.8 1255.4 449.8 1258.4 453.8 1261.4 457.9 1264.4 461.9 1267.4 466.0 1270.4 470.1 1273.4 474.3 1276.4 478.4 1279.4 482.6 1282.5 486.7 1285.5 490.9 1288.5 495.1 1291.5 499.4 1294.5 503.6 1297.5 507.8 1300.5 512.1 1303.5 516.4 1306.5 520.7 1309.5 525.0 1312.5 529.3 1315.5 533.6 1318.5 538.0 1321.5 542.3 1324.5 546.7 1327.5 551.0 1330.5 555.4 1333.5 559.8 1336.5 564.2 1339.5 568.6 1342.6 573.0 1345.6 577.4 1348.6 581.9 1351.6 586.3 1354.6 590.7 1357.6 595.2 1360.6 599.6 1363.6 604.1 1366.6 608.6 1369.6 613.0 1372.6 617.5 1375.6 622.0 1378.6 626.5 1381.6 631.0 1384.6 635.5 1387.6 640.0 1390.6 644.5 1393.6 649.1 1396.6 653.6 1399.6 658.1 1402.6 662.6 1405.6 667.2 1408.6 671.7 1411.6 676.3 1414.6 680.8 1417.6 685.4 1420.6 689.9 1423.6 694.5 1426.6 699.1 1429.6 703.6 1432.6 708.2 1435.6 712.8 1438.6 717.3 1441.6 721.9 1444.6 726.5 1447.6 731.1 1450.6 735.7 1453.6 740.3 1456.6 744.8 1459.6 749.4 1462.6 754.0 1465.6 758.6 1468.6 763.2 1471.6 767.8 1474.6 772.4 1477.6 777.0 1480.6 781.6 1483.6 786.3 1486.6 790.9 1489.6 795.5 1492.6 800.1 1495.6 804.7 1498.6 809.3 1501.6 813.9 1504.6 818.5 1507.6 823.2 1510.6 827.8 1513.6 832.4 1516.6 837.0 1519.6 841.6 1522.6 846.3 1525.6 850.9 1528.6 855.5 1531.6 860.1 1534.6 864.7 1537.6 869.4 1540.6 874.0 1543.6 878.6 1546.6 883.2 1549.6 887.9 1552.6 892.5 1555.6 897.1 1558.6 901.7 1561.6 906.3 1564.6 911.0 1567.6 915.6 1570.6 920.2 1573.6 924.8 1576.6 929.4 1579.6 934.0 1582.6 938.7 1585.6 943.3 1588.6 947.9 1591.6 952.5 1594.6 957.1 1597.6 961.7 1600.6 966.3 1603.6 970.9 1606.6 975.6 1609.6 980.2 1612.6 984.8 1615.6 989.4 1618.6 994.0 1621.6 998.6 1624.6 1003.2 1627.6 1007.8 1630.6 1012.3 1633.6 1016.9 1636.6 1021.5 1639.6 1026.1 1642.6 1030.7 1645.6 1035.3 1648.6 1039.9 1651.6 1044.4 1654.6 1049.0 1657.6 1053.6 1660.6 1058.2 1663.6 1062.7 1666.6 1067.3 1669.6 1071.8 1672.6 1076.4 1675.6 1081.0 1678.6 1085.5 1681.6 1090.1 1684.6 1094.6 1687.6 1099.2 1690.6 1103.7 1693.6 1108.2 1696.6 1112.8 1699.6 1117.3 1702.6 1121.8 1705.6 1126.3 1708.6 1130.9 1711.6 1135.4 1714.6 1139.9 1717.6 1144.4 1720.6 1148.9 1723.6 1153.4 1726.6 1157.9 1729.6 1162.4 1732.6 1166.9 1735.6 1171.4 1738.6 1175.8 1741.6 1180.3 1744.6 1184.8 1747.6 1189.2 1750.6 1193.7 1753.6 1198.2 1756.6 1202.6 1759.6 1207.1 1762.6 1211.5 1764.8 1214.8 1769.3 1221.5 1762.0 1225.8 1752.5 1223.2 1750.2 1219.8 1747.2 1215.4 1744.2 1210.9 1741.2 1206.5 1738.2 1202.0 1735.2 1197.5 1732.2 1193.1 1729.2 1188.6 1726.2 1184.1 1723.2 1179.6 1720.2 1175.1 1717.2 1170.6 1714.2 1166.1 1711.2 1161.6 1708.2 1157.1 1705.2 1152.6 1702.2 1148.1 1699.2 1143.6 1696.2 1139.1 1693.2 1134.6 1690.2 1130.0 1687.2 1125.5 1684.2 1121.0 1681.2 1116.4 1678.2 1111.9 1675.2 1107.3 1672.2 1102.8 1669.2 1098.2 1666.2 1093.7 1663.2 1089.1 1660.2 1084.6 1657.2 1080.0 1654.2 1075.4 1651.2 1070.9 1648.2 1066.3 1645.2 1061.7 1642.2 1057.2 1639.2 1052.6 1636.2 1048.0 1633.2 1043.4 1630.2 1038.8 1627.2 1034.2 1624.2 1029.7 1621.2 1025.1 1618.2 1020.5 1615.2 1015.9 1612.2 1011.3 1609.2 1006.7 1606.2 1002.1 1603.2 997.5 1600.2 992.9 1597.2 988.3 1594.2 983.7 1591.2 979.1 1588.2 974.4 1585.2 969.8 1582.2 965.2 1579.2 960.6 1576.2 956.0 1573.2 951.4 1570.2 946.8 1567.2 942.1 1564.2 937.5 1561.2 932.9 1558.2 928.3 1555.2 923.7 1552.2 919.0 1549.2 914.4 1546.2 909.8 1543.2 905.2 1540.2 900.6 1537.2 895.9 1534.2 891.3 1531.2 886.7 1528.2 882.1 1525.2 877.4 1522.2 872.8 1519.2 868.2 1516.2 863.6 1513.2 859.0 1510.2 854.3 1507.2 849.7 1504.2 845.1 1501.2 840.5 1498.2 835.9 1495.2 831.3 1492.2 826.6 1489.2 822.0 1486.2 817.4 1483.2 812.8 1480.2 808.2 1477.2 803.6 1474.2 799.0 1471.2 794.4 1468.2 789.8 1465.2 785.1 1462.2 780.5 1459.2 775.9 1456.2 771.3 1453.2 766.7 1450.2 762.2 1447.2 757.6 1444.2 753.0 1441.2 748.4 1438.2 743.8 1435.2 739.2 1432.2 734.6 1429.2 730.1 1426.2 725.5 1423.2 720.9 1420.2 716.3 1417.2 711.8 1414.2 707.2 1411.2 702.7 1408.2 698.1 1405.2 693.5 1402.2 689.0 1399.2 684.5 1396.2 679.9 1393.2 675.4 1390.2 670.9 1387.2 666.3 1384.2 661.8 1381.2 657.3 1378.2 652.8 1375.2 648.3 1372.2 643.8 1369.2 639.3 1366.2 634.8 1363.2 630.3 1360.2 625.8 1357.2 621.3 1354.2 616.9 1351.2 612.4 1348.2 607.9 1345.2 603.5 1342.2 599.1 1339.2 594.6 1336.2 590.2 1333.2 585.8 1330.2 581.4 1327.3 577.0 1324.3 572.6 1321.3 568.2 1318.3 563.8 1315.3 559.5 1312.3 555.1 1309.3 550.8 1306.3 546.4 1303.3 542.1 1300.3 537.8 1297.3 533.5 1294.3 529.2 1291.3 524.9 1288.3 520.7 1285.3 516.4 1282.3 512.2 1279.3 508.0 1276.3 503.8 1273.3 499.6 1270.3 495.4 1267.4 491.3 1264.4 487.2 1261.4 483.0 1258.4 478.9 1255.4 474.9 1252.4 470.8 1249.4 466.8 1246.4 462.8 1243.4 458.8 1240.4 454.8 1237.5 450.9 1234.5 446.9 1231.5 443.0 1228.5 439.2 1225.5 435.3 1222.5 431.5 1219.5 427.7 1216.6 424.0 1213.6 420.3 1210.6 416.6 1207.6 412.9 1204.6 409.3 1201.6 405.7 1198.7 402.1 1195.7 398.6 1192.7 395.1 1189.7 391.7 1186.8 388.3 1183.8 384.9 1180.8 381.6 1177.8 378.3 1174.9 375.0 1171.9 371.8 1168.9 368.7 1166.0 365.5 1163.0 362.4 1160.0 359.4 1157.1 356.4 1154.1 353.4 1151.1 350.5 1148.2 347.6 1145.2 344.7 1142.3 341.9 1139.3 339.1 1136.3 336.4 1133.4 333.7 1130.4 331.0 1127.5 328.4 1124.5 325.9 1121.6 323.3 1118.6 320.9 1115.7 318.4 1112.7 316.0 1109.8 313.7 1106.8 311.3 1103.9 309.1 1100.9 306.8 1098.0 304.6 1095.0 302.5 1092.1 300.3 1089.1 298.3 1086.2 296.2 1083.3 294.2 1080.3 292.3 1077.4 290.4 1074.4 288.5 1071.5 286.6 1068.6 284.8 1065.6 283.0 1062.7 281.3 1059.7 279.6 1056.8 277.9 1053.9 276.3 1050.9 274.7 1048.0 273.1 1045.0 271.6 1042.1 270.1 1039.2 268.6 1036.2 267.1 1033.3 265.7 1030.3 264.3 1027.4 263.0 1024.5 261.7 1021.5 260.4 1018.6 259.1 1015.6 257.9 1012.7 256.6 1009.7 255.4 1006.8 254.3 1003.8 253.1 1000.9 252.0 997.9 250.9 995.0 249.9 992.1 248.8 989.1 247.8 986.2 246.8 983.2 245.8 980.2 244.9 977.3 243.9 974.3 243.0 971.4 242.1 968.4 241.3 965.5 240.4 962.5 239.6 959.6 238.8 956.6 238.0 953.6 237.2 950.7 236.4 947.7 235.7 944.8 234.9 941.8 234.2 938.8 233.5 935.9 232.9 932.9 232.2 929.9 231.5 927.0 230.9 924.0 230.3 921.0 229.7 918.1 229.1 915.1 228.5 912.1 227.9 909.2 227.4 906.2 226.8 903.2 226.3 900.2 225.8 897.3 225.3 894.3 224.8 891.3 224.3 888.3 223.8 885.4 223.4 882.4 222.9 879.4 222.5 876.4 222.0 873.5 221.6 870.5 221.2 867.5 220.8 864.5 220.4 861.5 220.0 858.6 219.6 855.6 219.3 852.6 218.9 849.6 218.6 846.6 218.2 843.7 217.9 840.7 217.5 837.7 217.2 834.7 216.9 831.7 216.6 828.7 216.3 825.8 216.0 822.8 215.7 819.8 215.5 816.8 215.2 813.8 214.9 810.8 214.7 807.8 214.4 804.9 214.2 801.9 213.9 798.9 213.7 795.9 213.4 792.9 213.2 789.9 213.0 786.9 212.8 783.9 212.6 780.9 212.4 778.0 212.2 775.0 212.0 772.0 211.8 769.0 211.6 766.0 211.4 763.0 211.2 760.0 211.0 757.0 210.9 754.0 210.7 751.0 210.5 748.0 210.4 745.1 210.2 742.1 210.1 739.1 209.9 736.1 209.8 733.1 209.6 730.1 209.5 727.1 209.4 724.1 209.2 721.1 209.1 718.1 209.0 715.1 208.8 712.1 208.7 709.1 208.6 706.1 208.5 703.2 208.4 700.2 208.3 697.2 208.1 694.2 208.0 691.2 207.9 688.2 207.8 685.2 207.7 682.2 207.6 679.2 207.6 676.2 207.5 673.2 207.4 670.2 207.3 667.2 207.2 664.2 207.1 661.2 207.0 658.2 207.0 655.2 206.9 652.2 206.8 649.2 206.7 646.2 206.6 643.2 206.6 640.2 206.5 637.3 206.4 634.3 206.4 631.3 206.3 628.3 206.2 625.3 206.2 622.3 206.1 619.3 206.1 616.3 206.0 613.3 206.0 610.3 205.9 607.3 205.8 604.3 205.8 601.3 205.7 598.3 205.7 595.3 205.6 592.3 205.6 589.3 205.5 586.3 205.5 583.3 205.5 580.3 205.4 577.3 205.4 574.3 205.3 571.3 205.3 568.3 205.2 565.3 205.2 562.3 205.2 559.3 205.1 556.3 205.1 553.3 205.1 550.3 205.0 547.3 205.0 544.3 205.0 541.3 204.9 538.3 204.9 535.3 204.9 532.3 204.8 529.3 204.8 526.3 204.8 523.3 204.7 520.3 204.7 517.3 204.7 514.3 204.7 511.3 204.6 508.3 204.6 505.3 204.6 502.3 204.6 499.3 204.5 497.9 204.5Z" fill="#0000ff"/>
<path d="M497.9 218.0 499.4 218.0 502.4 218.0 505.4 218.0 508.4 218.0 511.4 218.0 514.4 218.0 517.4 218.0 520.4 218.1 523.4 218.1 526.4 218.1 529.4 218.1 532.4 218.1 535.4 218.1 538.4 218.1 541.4 218.2 544.4 218.2 547.4 218.2 550.4 218.2 553.4 218.2 556.4 218.2 559.4 218.3 562.4 218.3 565.4 218.3 568.4 218.3 571.4 218.3 574.4 218.3 577.4 218.4 580.4 218.4 583.4 218.4 586.4 218.4 589.4 218.5 592.5 218.5 595.5 218.5 598.5 218.5 601.5 218.5 604.5 218.6 607.5 218.6 610.5 218.6 613.5 218.6 616.5 218.7 619.5 218.7 622.5 218.7 625.5 218.8 628.5 218.8 631.5 218.8 634.5 218.8 637.5 218.9 640.5 218.9 643.5 218.9 646.5 219.0 649.5 219.0 652.5 219.0 655.5 219.1 658.5 219.1 661.5 219.1 664.5 219.2 667.5 219.2 670.5 219.3 673.5 219.3 676.5 219.3 679.5 219.4 682.5 219.4 685.5 219.5 688.5 219.5 691.5 219.6 694.5 219.6 697.5 219.7 700.5 219.7 703.5 219.8 706.5 219.8 709.5 219.9 712.5 219.9 715.5 220.0 718.5 220.0 721.5 220.1 724.5 220.2 727.5 220.2 730.5 220.3 733.5 220.3 736.5 220.4 739.6 220.5 742.6 220.5 745.6 220.6 748.6 220.7 751.6 220.8 754.6 220.8 757.6 220.9 760.6 221.0 763.6 221.1 766.6 221.1 769.6 221.2 772.6 221.3 775.6 221.4 778.6 221.5 781.6 221.6 784.6 221.7 787.6 221.8 790.6 221.9 793.6 222.0 796.6 222.1 799.6 222.2 802.6 222.3 805.7 222.4 808.7 222.5 811.7 222.6 814.7 222.7 817.7 222.9 820.7 223.0 823.7 223.1 826.7 223.2 829.7 223.4 832.7 223.5 835.7 223.6 838.7 223.8 841.7 223.9 844.7 224.1 847.7 224.2 850.8 224.4 853.8 224.5 856.8 224.7 859.8 224.9 862.8 225.0 865.8 225.2 868.8 225.4 871.8 225.5 874.8 225.7 877.8 225.9 880.8 226.1 883.9 226.3 886.9 226.5 889.9 226.7 892.9 226.9 895.9 227.1 898.9 227.4 901.9 227.6 904.9 227.8 907.9 228.1 911.0 228.3 914.0 228.6 917.0 228.8 920.0 229.1 923.0 229.3 926.0 229.6 929.0 229.9 932.1 230.2 935.1 230.4 938.1 230.7 941.1 231.0 944.1 231.4 947.1 231.7 950.1 232.0 953.2 232.3 956.2 232.7 959.2 233.0 962.2 233.4 965.2 233.7 968.3 234.1 971.3 234.5 974.3 234.9 977.3 235.3 980.3 235.7 983.4 236.1 986.4 236.5 989.4 237.0 992.4 237.4 995.5 237.9 998.5 238.3 1001.5 238.8 1004.5 239.3 1007.6 239.8 1010.6 240.3 1013.6 240.8 1016.6 241.4 1019.7 241.9 1022.7 242.5 1025.7 243.1 1028.8 243.7 1031.8 244.3 1034.8 244.9 1037.9 245.5 1040.9 246.1 1043.9 246.8 1047.0 247.5 1050.0 248.2 1053.0 248.9 1056.1 249.6 1059.1 250.3 1062.1 251.1 1065.2 251.9 1068.2 252.6 1071.3 253.5 1074.3 254.3 1077.3 255.1 1080.4 256.0 1083.4 256.9 1086.5 257.8 1089.5 258.7 1092.6 259.7 1095.6 260.6 1098.7 261.6 1101.7 262.7 1104.8 263.7 1107.8 264.8 1110.9 265.8 1113.9 267.0 1117.0 268.1 1120.0 269.3 1123.1 270.5 1126.1 271.7 1129.2 272.9 1132.3 274.2 1135.3 275.5 1138.4 276.9 1141.4 278.2 1144.5 279.6 1147.5 281.1 1150.6 282.5 1153.7 284.0 1156.7 285.6 1159.8 287.2 1162.9 288.8 1165.9 290.4 1169.0 292.1 1172.1 293.8 1175.1 295.6 1178.2 297.4 1181.3 299.2 1184.3 301.1 1187.4 303.0 1190.5 305.0 1193.5 307.0 1196.6 309.0 1199.6 311.1 1202.7 313.3 1205.8 315.5 1208.8 317.7 1211.9 320.0 1215.0 322.3 1218.0 324.7 1221.1 327.1 1224.1 329.6 1227.2 332.2 1230.3 334.7 1233.3 337.4 1236.4 340.1 1239.4 342.8 1242.5 345.6 1245.5 348.4 1248.6 351.3 1251.6 354.2 1254.7 357.2 1257.7 360.2 1260.8 363.3 1263.8 366.4 1266.8 369.6 1269.9 372.8 1272.9 376.0 1275.9 379.3 1279.0 382.7 1282.0 386.0 1285.0 389.5 1288.1 392.9 1291.1 396.5 1294.1 400.1 1297.2 403.7 1300.2 407.4 1303.2 411.1 1306.2 414.8 1309.3 418.6 1312.3 422.5 1315.3 426.3 1318.3 430.2 1321.3 434.2 1324.4 438.2 1327.4 442.2 1330.4 446.2 1333.4 450.3 1336.4 454.3 1339.4 458.5 1342.4 462.6 1345.4 466.8 1348.5 471.0 1351.5 475.2 1354.5 479.4 1357.5 483.7 1360.5 487.9 1363.5 492.2 1366.5 496.5 1369.5 500.9 1372.5 505.2 1375.5 509.6 1378.5 514.0 1381.5 518.4 1384.6 522.8 1387.6 527.2 1390.6 531.7 1393.6 536.2 1396.6 540.7 1399.6 545.2 1402.6 549.7 1405.6 554.2 1408.6 558.7 1411.6 563.3 1414.6 567.9 1417.6 572.4 1420.6 577.0 1423.6 581.6 1426.6 586.3 1429.6 590.9 1432.6 595.6 1435.6 600.2 1438.6 604.9 1441.6 609.6 1444.7 614.3 1447.7 619.0 1450.7 623.7 1453.7 628.4 1456.7 633.1 1459.7 637.9 1462.7 642.6 1465.7 647.4 1468.7 652.2 1471.7 657.0 1474.7 661.8 1477.7 666.6 1480.7 671.4 1483.7 676.2 1486.7 681.1 1489.7 685.9 1492.7 690.7 1495.7 695.6 1498.7 700.5 1501.7 705.3 1504.7 710.2 1507.7 715.1 1510.7 720.0 1513.7 724.9 1516.7 729.8 1519.7 734.7 1522.7 739.7 1525.7 744.6 1528.7 749.5 1531.7 754.5 1534.7 759.4 1537.7 764.4 1540.7 769.4 1543.7 774.3 1546.7 779.3 1549.7 784.3 1552.7 789.3 1555.7 794.2 1558.7 799.2 1561.7 804.2 1564.7 809.2 1567.7 814.2 1570.7 819.2 1573.7 824.3 1576.7 829.3 1579.8 834.3 1582.8 839.3 1585.8 844.3 1588.8 849.4 1591.8 854.4 1594.8 859.4 1597.8 864.5 1600.8 869.5 1603.8 874.6 1606.8 879.6 1609.8 884.6 1612.8 889.7 1615.8 894.7 1618.8 899.8 1621.8 904.8 1624.8 909.9 1627.8 914.9 1630.8 920.0 1633.8 925.0 1636.8 930.1 1639.8 935.1 1642.8 940.2 1645.8 945.2 1648.8 950.3 1651.8 955.3 1654.8 960.4 1657.8 965.4 1660.8 970.5 1663.8 975.5 1666.8 980.6 1669.8 985.6 1672.8 990.6 1675.8 995.7 1678.8 1000.7 1681.8 1005.7 1684.8 1010.8 1687.8 1015.8 1690.8 1020.8 1693.8 1025.8 1696.7 1030.8 1699.7 1035.9 1702.7 1040.9 1705.7 1045.9 1708.7 1050.9 1711.7 1055.9 1714.7 1060.9 1717.7 1065.9 1720.7 1070.8 1723.7 1075.8 1726.7 1080.8 1729.7 1085.8 1732.7 1090.7 1735.7 1095.7 1738.7 1100.6 1741.7 1105.6 1744.7 1110.5 1747.7 1115.4 1750.7 1120.4 1753.7 1125.3 1756.7 1130.2 1759.7 1135.1 1762.7 1140.0 1765.0 1143.7 1769.1 1150.5 1762.0 1154.0 1752.3 1151.4 1750.1 1147.7 1747.1 1142.8 1744.1 1137.9 1741.1 1133.0 1738.1 1128.1 1735.1 1123.1 1732.1 1118.2 1729.1 1113.2 1726.1 1108.3 1723.1 1103.3 1720.1 1098.4 1717.1 1093.4 1714.1 1088.4 1711.1 1083.5 1708.1 1078.5 1705.1 1073.5 1702.1 1068.5 1699.1 1063.5 1696.1 1058.5 1693.1 1053.5 1690.1 1048.5 1687.1 1043.5 1684.1 1038.4 1681.0 1033.4 1678.0 1028.4 1675.0 1023.4 1672.0 1018.3 1669.0 1013.3 1666.0 1008.3 1663.0 1003.2 1660.0 998.2 1657.0 993.2 1654.0 988.1 1651.0 983.1 1648.0 978.0 1645.0 973.0 1642.0 967.9 1639.0 962.9 1636.0 957.8 1633.0 952.8 1630.0 947.7 1627.0 942.7 1624.0 937.6 1621.0 932.6 1618.0 927.5 1615.0 922.5 1612.0 917.4 1609.0 912.4 1606.0 907.3 1603.0 902.3 1600.0 897.2 1597.0 892.2 1594.0 887.2 1591.0 882.1 1588.0 877.1 1585.0 872.0 1582.0 867.0 1579.0 862.0 1576.0 857.0 1573.0 851.9 1570.0 846.9 1567.0 841.9 1564.1 836.9 1561.1 831.9 1558.1 826.9 1555.1 821.8 1552.1 816.8 1549.1 811.9 1546.1 806.9 1543.1 801.9 1540.1 796.9 1537.1 791.9 1534.1 786.9 1531.1 782.0 1528.1 777.0 1525.1 772.1 1522.1 767.1 1519.1 762.2 1516.1 757.2 1513.1 752.3 1510.1 747.4 1507.1 742.5 1504.1 737.6 1501.1 732.6 1498.1 727.8 1495.1 722.9 1492.1 718.0 1489.1 713.1 1486.1 708.2 1483.1 703.4 1480.1 698.5 1477.1 693.7 1474.1 688.9 1471.1 684.0 1468.1 679.2 1465.1 674.4 1462.1 669.6 1459.1 664.9 1456.1 660.1 1453.1 655.3 1450.1 650.6 1447.1 645.8 1444.1 641.1 1441.1 636.4 1438.1 631.6 1435.1 626.9 1432.1 622.2 1429.2 617.6 1426.2 612.9 1423.2 608.3 1420.2 603.6 1417.2 599.0 1414.2 594.4 1411.2 589.8 1408.2 585.2 1405.2 580.6 1402.2 576.0 1399.2 571.5 1396.2 566.9 1393.2 562.4 1390.2 557.9 1387.2 553.4 1384.2 548.9 1381.2 544.5 1378.2 540.0 1375.2 535.6 1372.2 531.2 1369.3 526.8 1366.3 522.4 1363.3 518.0 1360.3 513.7 1357.3 509.4 1354.3 505.1 1351.3 500.8 1348.3 496.5 1345.3 492.3 1342.3 488.0 1339.3 483.8 1336.3 479.6 1333.4 475.5 1330.4 471.4 1327.4 467.3 1324.4 463.2 1321.4 459.1 1318.4 455.1 1315.4 451.1 1312.4 447.2 1309.5 443.2 1306.5 439.4 1303.5 435.5 1300.5 431.7 1297.5 427.9 1294.6 424.2 1291.6 420.5 1288.6 416.8 1285.6 413.2 1282.7 409.7 1279.7 406.2 1276.7 402.7 1273.8 399.4 1270.8 396.0 1267.8 392.7 1264.9 389.5 1261.9 386.2 1258.9 383.1 1256.0 379.9 1253.0 376.8 1250.0 373.8 1247.1 370.8 1244.1 367.9 1241.2 365.0 1238.2 362.1 1235.3 359.3 1232.3 356.6 1229.4 353.9 1226.4 351.3 1223.5 348.7 1220.5 346.1 1217.6 343.6 1214.7 341.2 1211.7 338.8 1208.8 336.5 1205.8 334.2 1202.9 331.9 1200.0 329.7 1197.0 327.5 1194.1 325.4 1191.2 323.4 1188.2 321.3 1185.3 319.4 1182.3 317.4 1179.4 315.5 1176.5 313.7 1173.5 311.8 1170.6 310.1 1167.7 308.3 1164.7 306.6 1161.8 305.0 1158.9 303.3 1155.9 301.7 1153.0 300.2 1150.1 298.7 1147.1 297.2 1144.2 295.7 1141.3 294.3 1138.3 292.9 1135.4 291.5 1132.4 290.2 1129.5 288.9 1126.5 287.6 1123.6 286.3 1120.7 285.1 1117.7 283.9 1114.8 282.7 1111.8 281.6 1108.9 280.5 1105.9 279.4 1103.0 278.3 1100.0 277.2 1097.1 276.2 1094.1 275.2 1091.2 274.2 1088.2 273.3 1085.3 272.3 1082.3 271.4 1079.4 270.5 1076.4 269.6 1073.5 268.8 1070.5 267.9 1067.5 267.1 1064.6 266.3 1061.6 265.5 1058.7 264.8 1055.7 264.0 1052.7 263.3 1049.8 262.6 1046.8 261.8 1043.8 261.2 1040.9 260.5 1037.9 259.8 1034.9 259.2 1032.0 258.6 1029.0 257.9 1026.0 257.3 1023.1 256.7 1020.1 256.2 1017.1 255.6 1014.2 255.1 1011.2 254.5 1008.2 254.0 1005.2 253.5 1002.3 253.0 999.3 252.5 996.3 252.0 993.3 251.5 990.4 251.1 987.4 250.6 984.4 250.2 981.4 249.7 978.5 249.3 975.5 248.9 972.5 248.5 969.5 248.1 966.5 247.7 963.6 247.4 960.6 247.0 957.6 246.6 954.6 246.3 951.6 245.9 948.7 245.6 945.7 245.3 942.7 244.9 939.7 244.6 936.7 244.3 933.7 244.0 930.7 243.7 927.8 243.4 924.8 243.2 921.8 242.9 918.8 242.6 915.8 242.3 912.8 242.1 909.8 241.8 906.9 241.6 903.9 241.3 900.9 241.1 897.9 240.9 894.9 240.7 891.9 240.4 888.9 240.2 885.9 240.0 882.9 239.8 880.0 239.6 877.0 239.4 874.0 239.2 871.0 239.0 868.0 238.8 865.0 238.7 862.0 238.5 859.0 238.3 856.0 238.2 853.0 238.0 850.0 237.8 847.1 237.7 844.1 237.5 841.1 237.4 838.1 237.2 835.1 237.1 832.1 236.9 829.1 236.8 826.1 236.7 823.1 236.5 820.1 236.4 817.1 236.3 814.1 236.2 811.1 236.0 808.1 235.9 805.1 235.8 802.2 235.7 799.2 235.6 796.2 235.5 793.2 235.4 790.2 235.3 787.2 235.2 784.2 235.1 781.2 235.0 778.2 234.9 775.2 234.8 772.2 234.7 769.2 234.6 766.2 234.5 763.2 234.4 760.2 234.4 757.2 234.3 754.2 234.2 751.2 234.1 748.2 234.1 745.2 234.0 742.2 233.9 739.2 233.8 736.3 233.8 733.3 233.7 730.3 233.6 727.3 233.6 724.3 233.5 721.3 233.5 718.3 233.4 715.3 233.3 712.3 233.3 709.3 233.2 706.3 233.2 703.3 233.1 700.3 233.1 697.3 233.0 694.3 233.0 691.3 232.9 688.3 232.9 685.3 232.8 682.3 232.8 679.3 232.7 676.3 232.7 673.3 232.6 670.3 232.6 667.3 232.6 664.3 232.5 661.3 232.5 658.3 232.5 655.3 232.4 652.3 232.4 649.3 232.3 646.3 232.3 643.3 232.3 640.3 232.2 637.3 232.2 634.3 232.2 631.3 232.1 628.3 232.1 625.3 232.1 622.3 232.1 619.3 232.0 616.3 232.0 613.3 232.0 610.3 231.9 607.3 231.9 604.3 231.9 601.3 231.9 598.3 231.8 595.3 231.8 592.3 231.8 589.4 231.8 586.4 231.8 583.4 231.7 580.4 231.7 577.4 231.7 574.4 231.7 571.4 231.7 568.4 231.6 565.4 231.6 562.4 231.6 559.4 231.6 556.4 231.6 553.4 231.5 550.4 231.5 547.4 231.5 544.4 231.5 541.4 231.5 538.4 231.5 535.4 231.4 532.4 231.4 529.4 231.4 526.4 231.4 523.4 231.4 520.4 231.4 517.4 231.4 514.4 231.4 511.4 231.3 508.4 231.3 505.4 231.3 502.4 231.3 499.4 231.3 497.9 231.3Z" fill="#00ff00"/>
<path d="M497.9 244.8 499.4 244.8 502.4 244.8 505.4 244.8 508.4 244.8 511.4 244.8 514.4 244.8 517.4 244.8 520.4 244.8 523.4 244.8 526.4 244.8 529.4 244.8 532.4 244.8 535.4 244.8 538.4 244.8 541.4 244.9 544.4 244.9 547.4 244.9 550.4 244.9 553.4 244.9 556.4 244.9 559.4 244.9 562.4 244.9 565.4 244.9 568.4 244.9 571.4 244.9 574.4 244.9 577.4 245.0 580.4 245.0 583.4 245.0 586.4 245.0 589.4 245.0 592.4 245.0 595.4 245.0 598.4 245.0 601.4 245.0 604.4 245.0 607.4 245.1 610.4 245.1 613.4 245.1 616.4 245.1 619.4 245.1 622.4 245.1 625.4 245.1 628.4 245.1 631.4 245.2 634.4 245.2 637.4 245.2 640.4 245.2 643.4 245.2 646.4 245.2 649.4 245.3 652.4 245.3 655.4 245.3 658.4 245.3 661.4 245.3 664.4 245.3 667.4 245.4 670.4 245.4 673.4 245.4 676.4 245.4 679.4 245.4 682.4 245.5 685.4 245.5 688.5 245.5 691.5 245.5 694.5 245.6 697.5 245.6 700.5 245.6 703.5 245.6 706.5 245.7 709.5 245.7 712.5 245.7 715.5 245.7 718.5 245.8 721.5 245.8 724.5 245.8 727.5 245.8 730.5 245.9 733.5 245.9 736.5 245.9 739.5 246.0 742.5 246.0 745.5 246.0 748.5 246.1 751.5 246.1 754.5 246.1 757.5 246.2 760.5 246.2 763.5 246.3 766.5 246.3 769.5 246.3 772.5 246.4 775.5 246.4 778.5 246.5 781.5 246.5 784.5 246.6 787.5 246.6 790.5 246.7 793.5 246.7 796.5 246.8 799.5 246.8 802.5 246.9 805.5 246.9 808.5 247.0 811.5 247.0 814.5 247.1 817.5 247.2 820.5 247.2 823.5 247.3 826.5 247.3 829.5 247.4 832.6 247.5 835.6 247.5 838.6 247.6 841.6 247.7 844.6 247.8 847.6 247.8 850.6 247.9 853.6 248.0 856.6 248.1 859.6 248.2 862.6 248.2 865.6 248.3 868.6 248.4 871.6 248.5 874.6 248.6 877.6 248.7 880.6 248.8 883.6 248.9 886.6 249.0 889.6 249.1 892.6 249.2 895.7 249.3 898.7 249.4 901.7 249.5 904.7 249.7 907.7 249.8 910.7 249.9 913.7 250.0 916.7 250.2 919.7 250.3 922.7 250.4 925.7 250.6 928.7 250.7 931.7 250.8 934.7 251.0 937.7 251.1 940.8 251.3 943.8 251.5 946.8 251.6 949.8 251.8 952.8 252.0 955.8 252.1 958.8 252.3 961.8 252.5 964.8 252.7 967.8 252.9 970.8 253.1 973.9 253.3 976.9 253.5 979.9 253.7 982.9 253.9 985.9 254.1 988.9 254.3 991.9 254.6 994.9 254.8 998.0 255.0 1001.0 255.3 1004.0 255.5 1007.0 255.8 1010.0 256.1 1013.0 256.3 1016.0 256.6 1019.1 256.9 1022.1 257.2 1025.1 257.5 1028.1 257.8 1031.1 258.1 1034.1 258.4 1037.2 258.8 1040.2 259.1 1043.2 259.4 1046.2 259.8 1049.2 260.1 1052.2 260.5 1055.3 260.9 1058.3 261.3 1061.3 261.7 1064.3 262.1 1067.4 262.5 1070.4 262.9 1073.4 263.3 1076.4 263.8 1079.4 264.2 1082.5 264.7 1085.5 265.2 1088.5 265.6 1091.5 266.1 1094.6 266.6 1097.6 267.2 1100.6 267.7 1103.7 268.2 1106.7 268.8 1109.7 269.4 1112.8 270.0 1115.8 270.6 1118.8 271.2 1121.8 271.8 1124.9 272.4 1127.9 273.1 1131.0 273.8 1134.0 274.5 1137.0 275.2 1140.1 275.9 1143.1 276.6 1146.1 277.4 1149.2 278.2 1152.2 279.0 1155.3 279.8 1158.3 280.6 1161.3 281.5 1164.4 282.3 1167.4 283.2 1170.5 284.1 1173.5 285.1 1176.6 286.0 1179.6 287.0 1182.7 288.0 1185.7 289.0 1188.8 290.1 1191.8 291.1 1194.9 292.2 1197.9 293.3 1201.0 294.5 1204.0 295.7 1207.1 296.9 1210.1 298.1 1213.2 299.3 1216.3 300.6 1219.3 301.9 1222.4 303.3 1225.4 304.6 1228.5 306.0 1231.5 307.5 1234.6 308.9 1237.6 310.4 1240.7 311.9 1243.8 313.5 1246.8 315.0 1249.9 316.6 1252.9 318.3 1256.0 319.9 1259.0 321.6 1262.1 323.4 1265.1 325.1 1268.2 326.9 1271.2 328.7 1274.3 330.6 1277.3 332.4 1280.3 334.3 1283.4 336.2 1286.4 338.2 1289.5 340.2 1292.5 342.1 1295.6 344.2 1298.7 346.4 1301.8 348.6 1304.9 350.9 1308.0 353.2 1311.1 355.6 1314.1 358.1 1317.2 360.6 1320.3 363.2 1323.3 365.9 1326.4 368.6 1329.5 371.4 1332.5 374.2 1335.6 377.1 1338.6 380.1 1341.7 383.1 1344.7 386.2 1347.8 389.3 1350.8 392.4 1353.9 395.7 1356.9 398.9 1359.9 402.2 1363.0 405.6 1366.0 409.0 1369.0 412.5 1372.1 416.0 1375.1 419.5 1378.1 423.1 1381.2 426.8 1384.2 430.4 1387.2 434.2 1390.2 437.9 1393.3 441.7 1396.3 445.6 1399.3 449.5 1402.3 453.4 1405.3 457.3 1408.4 461.3 1411.4 465.4 1414.4 469.4 1417.4 473.6 1420.4 477.7 1423.5 481.9 1426.5 486.1 1429.5 490.3 1432.5 494.6 1435.5 498.9 1438.5 503.3 1441.5 507.6 1444.5 512.0 1447.6 516.5 1450.6 520.9 1453.6 525.4 1456.6 530.0 1459.6 534.5 1462.6 539.1 1465.6 543.7 1468.6 548.4 1471.6 553.0 1474.7 557.7 1477.7 562.4 1480.7 567.2 1483.7 571.9 1486.7 576.7 1489.7 581.6 1492.7 586.4 1495.7 591.3 1498.7 596.2 1501.7 601.1 1504.7 606.0 1507.7 611.0 1510.7 615.9 1513.7 620.9 1516.7 625.9 1519.8 631.0 1522.8 636.0 1525.8 641.1 1528.8 646.2 1531.8 651.3 1534.8 656.4 1537.8 661.6 1540.8 666.8 1543.8 671.9 1546.8 677.1 1549.8 682.3 1552.8 687.6 1555.8 692.8 1558.8 698.1 1561.8 703.3 1564.8 708.6 1567.8 713.9 1570.8 719.2 1573.8 724.5 1576.8 729.9 1579.8 735.2 1582.8 740.5 1585.8 745.9 1588.8 751.3 1591.8 756.7 1594.8 762.1 1597.8 767.4 1600.8 772.9 1603.8 778.3 1606.8 783.7 1609.8 789.1 1612.9 794.6 1615.9 800.0 1618.9 805.4 1621.9 810.9 1624.9 816.3 1627.9 821.8 1630.9 827.3 1633.9 832.7 1636.9 838.2 1639.9 843.7 1642.9 849.1 1645.9 854.6 1648.9 860.1 1651.9 865.6 1654.9 871.0 1657.9 876.5 1660.9 882.0 1663.9 887.5 1666.9 892.9 1669.9 898.4 1672.9 903.9 1675.9 909.3 1678.9 914.8 1681.9 920.3 1684.9 925.7 1687.9 931.2 1690.9 936.6 1693.9 942.0 1696.9 947.5 1699.8 952.9 1702.8 958.3 1705.8 963.7 1708.8 969.1 1711.8 974.5 1714.8 979.9 1717.8 985.3 1720.8 990.6 1723.8 996.0 1726.8 1001.4 1729.8 1006.7 1732.8 1012.0 1735.8 1017.3 1738.8 1022.6 1741.8 1027.9 1744.8 1033.2 1747.8 1038.5 1750.8 1043.7 1753.8 1048.9 1756.8 1054.2 1759.8 1059.4 1762.8 1064.5 1765.0 1068.4 1769.1 1075.3 1762.0 1078.4 1752.3 1075.8 1750.0 1071.9 1747.0 1066.7 1744.0 1061.5 1741.0 1056.3 1738.0 1051.0 1735.0 1045.8 1732.0 1040.5 1729.0 1035.2 1726.0 1029.9 1723.0 1024.6 1720.0 1019.3 1717.0 1013.9 1714.0 1008.6 1711.0 1003.2 1708.0 997.8 1705.0 992.5 1702.0 987.1 1699.0 981.7 1696.0 976.3 1693.0 970.9 1690.0 965.5 1687.0 960.0 1683.9 954.6 1680.9 949.2 1677.9 943.7 1674.9 938.3 1671.9 932.8 1668.9 927.4 1665.9 921.9 1662.9 916.4 1659.9 911.0 1656.9 905.5 1653.9 900.0 1650.9 894.5 1647.9 889.1 1644.9 883.6 1641.9 878.1 1638.9 872.6 1635.9 867.2 1632.9 861.7 1629.9 856.2 1626.9 850.8 1623.9 845.3 1620.9 839.8 1617.9 834.4 1614.9 828.9 1611.9 823.4 1608.9 818.0 1605.9 812.5 1602.9 807.1 1599.9 801.7 1597.0 796.2 1594.0 790.8 1591.0 785.4 1588.0 780.0 1585.0 774.6 1582.0 769.2 1579.0 763.8 1576.0 758.5 1573.0 753.1 1570.0 747.8 1567.0 742.4 1564.0 737.1 1561.0 731.8 1558.0 726.5 1555.0 721.2 1552.0 715.9 1549.0 710.6 1546.0 705.4 1543.0 700.1 1540.0 694.9 1537.0 689.7 1534.0 684.5 1531.0 679.3 1528.0 674.2 1525.0 669.0 1522.0 663.9 1519.0 658.8 1516.0 653.7 1513.0 648.6 1510.0 643.6 1507.0 638.6 1504.1 633.5 1501.1 628.5 1498.1 623.6 1495.1 618.6 1492.1 613.7 1489.1 608.8 1486.1 603.9 1483.1 599.0 1480.1 594.2 1477.1 589.4 1474.1 584.6 1471.1 579.9 1468.1 575.1 1465.1 570.4 1462.1 565.7 1459.2 561.1 1456.2 556.4 1453.2 551.8 1450.2 547.3 1447.2 542.7 1444.2 538.2 1441.2 533.7 1438.2 529.2 1435.2 524.8 1432.3 520.4 1429.3 516.1 1426.3 511.7 1423.3 507.4 1420.3 503.2 1417.3 498.9 1414.3 494.7 1411.3 490.6 1408.4 486.5 1405.4 482.4 1402.4 478.3 1399.4 474.3 1396.4 470.3 1393.5 466.4 1390.5 462.5 1387.5 458.6 1384.5 454.8 1381.5 451.0 1378.6 447.3 1375.6 443.6 1372.6 439.9 1369.6 436.3 1366.7 432.7 1363.7 429.2 1360.7 425.7 1357.8 422.3 1354.8 418.9 1351.8 415.6 1348.9 412.3 1345.9 409.1 1342.9 405.9 1340.0 402.8 1337.0 399.7 1334.1 396.7 1331.1 393.7 1328.2 390.8 1325.2 388.0 1322.3 385.2 1319.3 382.4 1316.4 379.8 1313.5 377.1 1310.5 374.6 1307.6 372.1 1304.7 369.7 1301.7 367.3 1298.8 365.0 1295.9 362.8 1293.0 360.6 1290.1 358.5 1287.2 356.5 1284.3 354.5 1281.3 352.6 1278.4 350.7 1275.4 348.8 1272.5 346.9 1269.5 345.0 1266.5 343.2 1263.6 341.4 1260.6 339.6 1257.7 337.9 1254.7 336.2 1251.8 334.5 1248.8 332.8 1245.9 331.2 1242.9 329.6 1240.0 328.1 1237.0 326.5 1234.1 325.0 1231.2 323.5 1228.2 322.1 1225.3 320.7 1222.3 319.3 1219.4 317.9 1216.4 316.6 1213.5 315.3 1210.5 314.0 1207.6 312.7 1204.7 311.5 1201.7 310.3 1198.8 309.1 1195.8 308.0 1192.9 306.9 1189.9 305.7 1187.0 304.7 1184.0 303.6 1181.1 302.6 1178.1 301.6 1175.2 300.6 1172.2 299.6 1169.3 298.7 1166.3 297.8 1163.4 296.9 1160.4 296.0 1157.5 295.1 1154.5 294.3 1151.5 293.4 1148.6 292.6 1145.6 291.8 1142.7 291.1 1139.7 290.3 1136.7 289.6 1133.8 288.9 1130.8 288.2 1127.8 287.5 1124.9 286.8 1121.9 286.1 1119.0 285.5 1116.0 284.9 1113.0 284.2 1110.0 283.6 1107.1 283.1 1104.1 282.5 1101.1 281.9 1098.2 281.4 1095.2 280.8 1092.2 280.3 1089.3 279.8 1086.3 279.3 1083.3 278.8 1080.3 278.3 1077.4 277.9 1074.4 277.4 1071.4 277.0 1068.4 276.5 1065.4 276.1 1062.5 275.7 1059.5 275.3 1056.5 274.9 1053.5 274.5 1050.6 274.1 1047.6 273.7 1044.6 273.4 1041.6 273.0 1038.6 272.7 1035.6 272.3 1032.7 272.0 1029.7 271.7 1026.7 271.4 1023.7 271.1 1020.7 270.8 1017.7 270.5 1014.8 270.2 1011.8 269.9 1008.8 269.6 1005.8 269.4 1002.8 269.1 999.8 268.8 996.8 268.6 993.9 268.3 990.9 268.1 987.9 267.9 984.9 267.6 981.9 267.4 978.9 267.2 975.9 267.0 972.9 266.8 970.0 266.6 967.0 266.4 964.0 266.2 961.0 266.0 958.0 265.8 955.0 265.6 952.0 265.4 949.0 265.3 946.0 265.1 943.0 264.9 940.0 264.8 937.1 264.6 934.1 264.4 931.1 264.3 928.1 264.2 925.1 264.0 922.1 263.9 919.1 263.7 916.1 263.6 913.1 263.5 910.1 263.3 907.1 263.2 904.1 263.1 901.1 263.0 898.1 262.8 895.1 262.7 892.2 262.6 889.2 262.5 886.2 262.4 883.2 262.3 880.2 262.2 877.2 262.1 874.2 262.0 871.2 261.9 868.2 261.8 865.2 261.7 862.2 261.6 859.2 261.5 856.2 261.5 853.2 261.4 850.2 261.3 847.2 261.2 844.2 261.1 841.2 261.1 838.2 261.0 835.2 260.9 832.2 260.9 829.3 260.8 826.3 260.7 823.3 260.6 820.3 260.6 817.3 260.5 814.3 260.5 811.3 260.4 808.3 260.3 805.3 260.3 802.3 260.2 799.3 260.2 796.3 260.1 793.3 260.1 790.3 260.0 787.3 260.0 784.3 259.9 781.3 259.9 778.3 259.8 775.3 259.8 772.3 259.7 769.3 259.7 766.3 259.6 763.3 259.6 760.3 259.6 757.3 259.5 754.3 259.5 751.3 259.5 748.3 259.4 745.3 259.4 742.3 259.3 739.3 259.3 736.3 259.3 733.3 259.2 730.3 259.2 727.3 259.2 724.3 259.1 721.3 259.1 718.3 259.1 715.3 259.1 712.3 259.0 709.3 259.0 706.3 259.0 703.3 259.0 700.3 258.9 697.3 258.9 694.3 258.9 691.3 258.9 688.3 258.8 685.4 258.8 682.4 258.8 679.4 258.8 676.4 258.7 673.4 258.7 670.4 258.7 667.4 258.7 664.4 258.7 661.4 258.6 658.4 258.6 655.4 258.6 652.4 258.6 649.4 258.6 646.4 258.6 643.4 258.5 640.4 258.5 637.4 258.5 634.4 258.5 631.4 258.5 628.4 258.5 625.4 258.5 622.4 258.4 619.4 258.4 616.4 258.4 613.4 258.4 610.4 258.4 607.4 258.4 604.4 258.4 601.4 258.3 598.4 258.3 595.4 258.3 592.4 258.3 589.4 258.3 586.4 258.3 583.4 258.3 580.4 258.3 577.4 258.3 574.4 258.3 571.4 258.2 568.4 258.2 565.4 258.2 562.4 258.2 559.4 258.2 556.4 258.2 553.4 258.2 550.4 258.2 547.4 258.2 544.4 258.2 541.4 258.2 538.4 258.2 535.4 258.1 532.4 258.1 529.4 258.1 526.4 258.1 523.4 258.1 520.4 258.1 517.4 258.1 514.4 258.1 511.4 258.1 508.4 258.1 505.4 258.1 502.4 258.1 499.4 258.1 497.9 258.1Z" fill="#ff0000"/>
<path d="M497.9 272.4 499.4 272.4 502.4 272.4 505.4 272.4 508.4 272.4 511.4 272.4 514.4 272.4 517.4 272.4 520.4 272.4 523.4 272.4 526.4 272.4 529.4 272.4 532.4 272.4 535.4 272.4 538.4 272.4 541.4 272.4 544.4 272.4 547.4 272.4 550.4 272.4 553.4 272.4 556.4 272.5 559.4 272.5 562.4 272.5 565.4 272.5 568.4 272.5 571.4 272.5 574.4 272.5 577.4 272.5 580.4 272.5 583.4 272.5 586.4 272.5 589.4 272.5 592.4 272.5 595.4 272.5 598.4 272.5 601.4 272.5 604.4 272.5 607.4 272.5 610.4 272.5 613.4 272.5 616.4 272.5 619.4 272.5 622.4 272.5 625.4 272.5 628.4 272.5 631.4 272.5 634.4 272.5 637.4 272.5 640.4 272.5 643.4 272.6 646.4 272.6 649.4 272.6 652.4 272.6 655.4 272.6 658.4 272.6 661.4 272.6 664.4 272.6 667.4 272.6 670.4 272.6 673.4 272.6 676.4 272.6 679.4 272.6 682.4 272.6 685.4 272.6 688.4 272.6 691.4 272.7 694.4 272.7 697.4 272.7 700.4 272.7 703.4 272.7 706.4 272.7 709.4 272.7 712.4 272.7 715.4 272.7 718.4 272.7 721.4 272.7 724.4 272.8 727.4 272.8 730.4 272.8 733.4 272.8 736.4 272.8 739.4 272.8 742.4 272.8 745.4 272.8 748.4 272.8 751.4 272.9 754.4 272.9 757.4 272.9 760.4 272.9 763.4 272.9 766.4 272.9 769.4 272.9 772.4 273.0 775.4 273.0 778.4 273.0 781.4 273.0 784.4 273.0 787.4 273.0 790.4 273.1 793.4 273.1 796.4 273.1 799.4 273.1 802.4 273.1 805.4 273.2 808.5 273.2 811.5 273.2 814.5 273.2 817.5 273.3 820.5 273.3 823.5 273.3 826.5 273.3 829.5 273.4 832.5 273.4 835.5 273.4 838.5 273.4 841.5 273.5 844.5 273.5 847.5 273.5 850.5 273.6 853.5 273.6 856.5 273.6 859.5 273.7 862.5 273.7 865.5 273.7 868.5 273.8 871.5 273.8 874.5 273.9 877.5 273.9 880.5 273.9 883.5 274.0 886.5 274.0 889.5 274.1 892.5 274.1 895.5 274.2 898.5 274.2 901.5 274.3 904.5 274.3 907.5 274.4 910.5 274.4 913.5 274.5 916.5 274.5 919.5 274.6 922.5 274.7 925.5 274.7 928.5 274.8 931.6 274.9 934.6 274.9 937.6 275.0 940.6 275.1 943.6 275.2 946.6 275.2 949.6 275.3 952.6 275.4 955.6 275.5 958.6 275.6 961.6 275.6 964.6 275.7 967.6 275.8 970.6 275.9 973.6 276.0 976.6 276.1 979.6 276.2 982.6 276.3 985.6 276.4 988.7 276.5 991.7 276.7 994.7 276.8 997.7 276.9 1000.7 277.0 1003.7 277.2 1006.7 277.3 1009.7 277.4 1012.7 277.6 1015.7 277.7 1018.7 277.8 1021.7 278.0 1024.8 278.2 1027.8 278.3 1030.8 278.5 1033.8 278.6 1036.8 278.8 1039.8 279.0 1042.8 279.2 1045.8 279.4 1048.8 279.5 1051.9 279.7 1054.9 279.9 1057.9 280.1 1060.9 280.4 1063.9 280.6 1066.9 280.8 1069.9 281.0 1072.9 281.3 1076.0 281.5 1079.0 281.8 1082.0 282.0 1085.0 282.3 1088.0 282.5 1091.0 282.8 1094.1 283.1 1097.1 283.4 1100.1 283.7 1103.1 284.0 1106.1 284.3 1109.1 284.6 1112.2 285.0 1115.2 285.3 1118.2 285.6 1121.2 286.0 1124.2 286.4 1127.3 286.7 1130.3 287.1 1133.3 287.5 1136.3 287.9 1139.4 288.3 1142.4 288.8 1145.4 289.2 1148.4 289.6 1151.5 290.1 1154.5 290.6 1157.5 291.1 1160.5 291.6 1163.6 292.1 1166.6 292.6 1169.6 293.1 1172.7 293.7 1175.7 294.2 1178.7 294.8 1181.8 295.4 1184.8 296.0 1187.8 296.6 1190.9 297.2 1193.9 297.9 1196.9 298.5 1200.0 299.2 1203.0 299.9 1206.0 300.6 1209.1 301.3 1212.1 302.1 1215.1 302.8 1218.2 303.6 1221.2 304.4 1224.3 305.2 1227.3 306.0 1230.3 306.9 1233.4 307.8 1236.4 308.6 1239.5 309.5 1242.5 310.5 1245.6 311.4 1248.6 312.4 1251.6 313.4 1254.7 314.4 1257.7 315.4 1260.8 316.5 1263.8 317.5 1266.9 318.6 1269.9 319.7 1273.0 320.9 1276.0 322.0 1279.0 323.2 1282.1 324.4 1285.1 325.6 1288.2 326.9 1291.2 328.1 1294.3 329.4 1297.3 330.8 1300.4 332.1 1303.4 333.5 1306.5 334.9 1309.5 336.3 1312.6 337.7 1315.6 339.2 1318.6 340.6 1321.7 342.1 1324.7 343.7 1327.8 345.2 1330.8 346.8 1333.9 348.4 1336.9 350.0 1339.9 351.7 1343.0 353.4 1346.0 355.1 1349.1 356.8 1352.2 358.6 1355.3 360.4 1358.3 362.3 1361.4 364.3 1364.5 366.3 1367.6 368.3 1370.7 370.5 1373.8 372.6 1376.8 374.9 1379.9 377.2 1383.0 379.5 1386.1 381.9 1389.1 384.4 1392.2 386.9 1395.3 389.5 1398.3 392.1 1401.4 394.8 1404.4 397.6 1407.5 400.4 1410.6 403.2 1413.6 406.1 1416.7 409.1 1419.7 412.1 1422.8 415.2 1425.8 418.3 1428.8 421.5 1431.9 424.8 1434.9 428.1 1438.0 431.4 1441.0 434.9 1444.0 438.3 1447.1 441.8 1450.1 445.4 1453.2 449.0 1456.2 452.7 1459.2 456.4 1462.2 460.2 1465.3 464.0 1468.3 467.9 1471.3 471.8 1474.4 475.8 1477.4 479.8 1480.4 483.8 1483.4 488.0 1486.4 492.1 1489.5 496.3 1492.5 500.6 1495.5 504.8 1498.5 509.2 1501.5 513.6 1504.6 518.0 1507.6 522.4 1510.6 526.9 1513.6 531.5 1516.6 536.1 1519.6 540.7 1522.6 545.3 1525.7 550.0 1528.7 554.8 1531.7 559.5 1534.7 564.4 1537.7 569.2 1540.7 574.1 1543.7 579.0 1546.7 583.9 1549.7 588.9 1552.7 593.9 1555.8 599.0 1558.8 604.0 1561.8 609.1 1564.8 614.2 1567.8 619.4 1570.8 624.6 1573.8 629.8 1576.8 635.0 1579.8 640.3 1582.8 645.6 1585.8 650.9 1588.8 656.2 1591.8 661.6 1594.8 667.0 1597.8 672.4 1600.8 677.8 1603.9 683.3 1606.9 688.7 1609.9 694.2 1612.9 699.7 1615.9 705.3 1618.9 710.8 1621.9 716.3 1624.9 721.9 1627.9 727.5 1630.9 733.1 1633.9 738.7 1636.9 744.4 1639.9 750.0 1642.9 755.7 1645.9 761.3 1648.9 767.0 1651.9 772.7 1654.9 778.4 1657.9 784.1 1660.9 789.9 1663.9 795.6 1666.9 801.3 1669.9 807.1 1672.9 812.8 1675.9 818.6 1678.9 824.4 1681.9 830.1 1684.9 835.9 1687.9 841.7 1690.9 847.5 1693.9 853.3 1696.9 859.1 1699.9 864.8 1702.9 870.6 1705.9 876.4 1708.9 882.2 1711.9 888.0 1714.9 893.8 1717.9 899.6 1720.9 905.4 1723.9 911.2 1726.9 917.0 1729.9 922.7 1732.9 928.5 1735.9 934.3 1738.9 940.1 1741.9 945.8 1744.9 951.6 1747.9 957.3 1750.9 963.1 1753.9 968.8 1756.9 974.5 1759.9 980.2 1762.9 986.0 1765.2 990.2 1768.9 997.3 1762.0 999.7 1752.1 997.1 1749.9 992.8 1746.9 987.1 1743.9 981.3 1740.9 975.6 1737.9 969.9 1734.9 964.1 1731.9 958.4 1728.9 952.6 1725.9 946.8 1722.9 941.1 1719.9 935.3 1716.9 929.5 1713.9 923.7 1710.9 917.9 1707.9 912.1 1704.9 906.4 1701.9 900.6 1698.9 894.8 1695.9 889.0 1692.9 883.2 1689.9 877.4 1686.9 871.6 1683.9 865.8 1680.9 860.0 1677.9 854.2 1674.9 848.5 1671.9 842.7 1668.9 836.9 1665.9 831.1 1662.9 825.4 1659.9 819.6 1656.9 813.9 1653.9 808.1 1650.9 802.4 1647.9 796.7 1644.9 791.0 1641.9 785.3 1638.9 779.6 1635.9 773.9 1632.9 768.2 1629.9 762.6 1626.9 756.9 1623.9 751.3 1620.9 745.7 1617.9 740.1 1614.9 734.5 1611.9 728.9 1608.9 723.3 1605.9 717.8 1602.9 712.3 1599.9 706.8 1596.9 701.3 1593.9 695.8 1590.9 690.4 1588.0 685.0 1585.0 679.5 1582.0 674.2 1579.0 668.8 1576.0 663.5 1573.0 658.2 1570.0 652.9 1567.0 647.6 1564.0 642.4 1561.0 637.2 1558.0 632.0 1555.0 626.8 1552.0 621.7 1549.0 616.6 1546.0 611.6 1543.0 606.5 1540.1 601.5 1537.1 596.6 1534.1 591.6 1531.1 586.7 1528.1 581.8 1525.1 577.0 1522.1 572.2 1519.1 567.5 1516.1 562.7 1513.1 558.0 1510.2 553.4 1507.2 548.8 1504.2 544.2 1501.2 539.7 1498.2 535.2 1495.2 530.7 1492.2 526.3 1489.3 522.0 1486.3 517.7 1483.3 513.4 1480.3 509.2 1477.3 505.0 1474.4 500.9 1471.4 496.8 1468.4 492.7 1465.4 488.7 1462.4 484.8 1459.5 480.9 1456.5 477.1 1453.5 473.3 1450.6 469.5 1447.6 465.8 1444.6 462.2 1441.6 458.6 1438.7 455.1 1435.7 451.6 1432.8 448.2 1429.8 444.8 1426.8 441.5 1423.9 438.2 1420.9 435.0 1418.0 431.8 1415.0 428.7 1412.0 425.7 1409.1 422.7 1406.1 419.8 1403.2 416.9 1400.2 414.1 1397.3 411.4 1394.4 408.7 1391.4 406.0 1388.5 403.4 1385.5 400.9 1382.6 398.4 1379.7 396.0 1376.7 393.6 1373.8 391.3 1370.9 389.1 1368.0 386.9 1365.0 384.7 1362.1 382.7 1359.2 380.6 1356.3 378.7 1353.4 376.7 1350.5 374.9 1347.5 373.1 1344.6 371.3 1341.7 369.6 1338.8 367.9 1335.8 366.3 1332.9 364.6 1329.9 363.0 1326.9 361.4 1324.0 359.8 1321.0 358.3 1318.1 356.8 1315.1 355.3 1312.2 353.8 1309.2 352.3 1306.2 350.9 1303.3 349.5 1300.3 348.1 1297.4 346.7 1294.4 345.4 1291.5 344.1 1288.5 342.8 1285.6 341.5 1282.6 340.3 1279.7 339.0 1276.7 337.8 1273.8 336.7 1270.8 335.5 1267.8 334.4 1264.9 333.2 1261.9 332.1 1259.0 331.1 1256.0 330.0 1253.1 329.0 1250.1 328.0 1247.2 327.0 1244.2 326.0 1241.2 325.0 1238.3 324.1 1235.3 323.2 1232.4 322.3 1229.4 321.4 1226.5 320.5 1223.5 319.7 1220.5 318.9 1217.6 318.1 1214.6 317.3 1211.7 316.5 1208.7 315.7 1205.7 315.0 1202.8 314.3 1199.8 313.6 1196.8 312.9 1193.9 312.2 1190.9 311.6 1187.9 310.9 1185.0 310.3 1182.0 309.7 1179.0 309.1 1176.1 308.5 1173.1 307.9 1170.1 307.3 1167.2 306.8 1164.2 306.2 1161.2 305.7 1158.3 305.2 1155.3 304.7 1152.3 304.2 1149.3 303.8 1146.4 303.3 1143.4 302.8 1140.4 302.4 1137.4 302.0 1134.5 301.6 1131.5 301.1 1128.5 300.7 1125.5 300.4 1122.6 300.0 1119.6 299.6 1116.6 299.2 1113.6 298.9 1110.6 298.5 1107.7 298.2 1104.7 297.9 1101.7 297.6 1098.7 297.3 1095.7 297.0 1092.7 296.7 1089.8 296.4 1086.8 296.1 1083.8 295.8 1080.8 295.5 1077.8 295.3 1074.8 295.0 1071.9 294.8 1068.9 294.6 1065.9 294.3 1062.9 294.1 1059.9 293.9 1056.9 293.7 1053.9 293.4 1050.9 293.2 1048.0 293.0 1045.0 292.8 1042.0 292.7 1039.0 292.5 1036.0 292.3 1033.0 292.1 1030.0 291.9 1027.0 291.8 1024.0 291.6 1021.1 291.5 1018.1 291.3 1015.1 291.2 1012.1 291.0 1009.1 290.9 1006.1 290.7 1003.1 290.6 1000.1 290.5 997.1 290.3 994.1 290.2 991.1 290.1 988.1 290.0 985.2 289.9 982.2 289.7 979.2 289.6 976.2 289.5 973.2 289.4 970.2 289.3 967.2 289.2 964.2 289.1 961.2 289.0 958.2 289.0 955.2 288.9 952.2 288.8 949.2 288.7 946.2 288.6 943.2 288.5 940.2 288.5 937.2 288.4 934.2 288.3 931.2 288.2 928.3 288.2 925.3 288.1 922.3 288.0 919.3 288.0 916.3 287.9 913.3 287.9 910.3 287.8 907.3 287.7 904.3 287.7 901.3 287.6 898.3 287.6 895.3 287.5 892.3 287.5 889.3 287.4 886.3 287.4 883.3 287.3 880.3 287.3 877.3 287.2 874.3 287.2 871.3 287.2 868.3 287.1 865.3 287.1 862.3 287.0 859.3 287.0 856.3 287.0 853.3 286.9 850.3 286.9 847.3 286.9 844.3 286.8 841.3 286.8 838.3 286.8 835.3 286.7 832.3 286.7 829.3 286.7 826.3 286.7 823.3 286.6 820.3 286.6 817.3 286.6 814.3 286.6 811.3 286.5 808.3 286.5 805.4 286.5 802.4 286.5 799.4 286.4 796.4 286.4 793.4 286.4 790.4 286.4 787.4 286.4 784.4 286.3 781.4 286.3 778.4 286.3 775.4 286.3 772.4 286.3 769.4 286.3 766.4 286.2 763.4 286.2 760.4 286.2 757.4 286.2 754.4 286.2 751.4 286.2 748.4 286.2 745.4 286.1 742.4 286.1 739.4 286.1 736.4 286.1 733.4 286.1 730.4 286.1 727.4 286.1 724.4 286.1 721.4 286.1 718.4 286.0 715.4 286.0 712.4 286.0 709.4 286.0 706.4 286.0 703.4 286.0 700.4 286.0 697.4 286.0 694.4 286.0 691.4 286.0 688.4 286.0 685.4 285.9 682.4 285.9 679.4 285.9 676.4 285.9 673.4 285.9 670.4 285.9 667.4 285.9 664.4 285.9 661.4 285.9 658.4 285.9 655.4 285.9 652.4 285.9 649.4 285.9 646.4 285.9 643.4 285.9 640.4 285.9 637.4 285.8 634.4 285.8 631.4 285.8 628.4 285.8 625.4 285.8 622.4 285.8 619.4 285.8 616.4 285.8 613.4 285.8 610.4 285.8 607.4 285.8 604.4 285.8 601.4 285.8 598.4 285.8 595.4 285.8 592.4 285.8 589.4 285.8 586.4 285.8 583.4 285.8 580.4 285.8 577.4 285.8 574.4 285.8 571.4 285.8 568.4 285.8 565.4 285.8 562.4 285.8 559.4 285.8 556.4 285.8 553.4 285.8 550.4 285.8 547.4 285.7 544.4 285.7 541.4 285.7 538.4 285.7 535.4 285.7 532.4 285.7 529.4 285.7 526.4 285.7 523.4 285.7 520.4 285.7 517.4 285.7 514.4 285.7 511.4 285.7 508.4 285.7 505.4 285.7 502.4 285.7 499.4 285.7 497.9 285.7Z" fill="#ff8000"/>
</g>
<g font-family="'Liberation Sans', Arial, Helvetica, sans-serif" font-size="139" fill="#000">
<text transform="translate(0 1257.8) scale(1 1.03)" x="247.8 324.4 360.7" y="0">0.2</text>
<text transform="translate(0 1051.5) scale(1 1.03)" x="247.8 324.4 360.7" y="0">0.3</text>
<text transform="translate(0 845.2) scale(1 1.03)" x="247.8 324.4 360.7" y="0">0.4</text>
<text transform="translate(0 639.0) scale(1 1.03)" x="247.8 324.4 360.7" y="0">0.5</text>
<text transform="translate(0 432.7) scale(1 1.03)" x="247.8 324.4 360.7" y="0">0.6</text>
<text transform="translate(0 226.4) scale(1 1.03)" x="247.8 324.4 360.7" y="0">0.7</text>
<text transform="translate(0 1508.5) scale(1 1.036)" x="462.9 533.9" y="0">10<tspan font-size="95" x="616.1 663.6" y="-54.73">15</tspan></text>
<text transform="translate(0 1508.5) scale(1 1.036)" x="755.4 826.4" y="0">10<tspan font-size="95" x="908.6 956.1" y="-54.73">16</tspan></text>
<text transform="translate(0 1508.5) scale(1 1.036)" x="1047.9 1118.9" y="0">10<tspan font-size="95" x="1201.1 1248.6" y="-54.73">17</tspan></text>
<text transform="translate(0 1508.5) scale(1 1.036)" x="1340.4 1411.4" y="0">10<tspan font-size="95" x="1493.6 1541.1" y="-54.73">18</tspan></text>
<text transform="translate(0 1508.5) scale(1 1.036)" x="1632.9 1703.9" y="0">10<tspan font-size="95" x="1786.1 1833.6" y="-54.73">19</tspan></text>
<text y="1718" x="450.0 548.9 625.65 702.1 770.0 846.05 922.25 959.0 1002.2 1078.65 1115.3 1143.85 1220.25 1296.0 1334.0 1369.9 1437.6">Concentration, cm<tspan font-size="100" x="1574.4" y="1669.9">−</tspan><tspan font-size="97" x="1628.8" y="1661.9">3</tspan></text>
<text transform="translate(133.5 1012.9) rotate(-90)" y="0" x="0.0 83.65 161.95 204.6 316.9 349.9 382.2 410.2 488.55 557.1 632.4 661.6 697.9 734.2 809.9">Fermi level, eV</text>
</g>
<g fill="#fff"><rect x="472.08" y="1496.74" width="25.77" height="13.26"/><rect x="510.14" y="1496.74" width="24.69" height="13.26"/><rect x="622.06" y="1443.45" width="17.93" height="9.85"/><rect x="648.39" y="1443.45" width="17.19" height="9.85"/><rect x="764.58" y="1496.74" width="25.77" height="13.26"/><rect x="802.64" y="1496.74" width="24.69" height="13.26"/><rect x="914.56" y="1443.45" width="17.93" height="9.85"/><rect x="940.89" y="1443.45" width="17.19" height="9.85"/><rect x="1057.08" y="1496.74" width="25.77" height="13.26"/><rect x="1095.14" y="1496.74" width="24.69" height="13.26"/><rect x="1207.06" y="1443.45" width="17.93" height="9.85"/><rect x="1233.39" y="1443.45" width="17.19" height="9.85"/><rect x="1349.58" y="1496.74" width="25.77" height="13.26"/><rect x="1387.64" y="1496.74" width="24.69" height="13.26"/><rect x="1499.56" y="1443.45" width="17.93" height="9.85"/><rect x="1525.89" y="1443.45" width="17.19" height="9.85"/><rect x="1642.08" y="1496.74" width="25.77" height="13.26"/><rect x="1680.14" y="1496.74" width="24.69" height="13.26"/><rect x="1792.06" y="1443.45" width="17.93" height="9.85"/><rect x="1818.39" y="1443.45" width="17.19" height="9.85"/></g>
</svg>
</body></html>
